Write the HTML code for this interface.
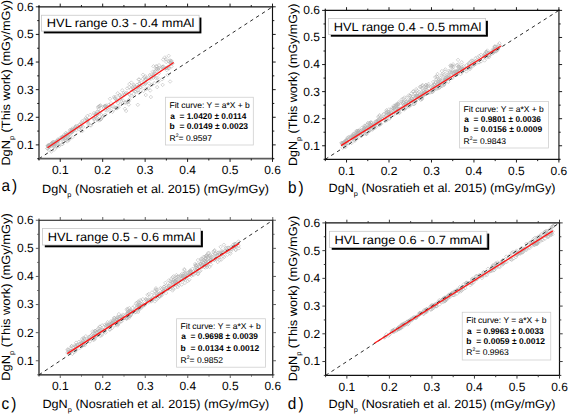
<!DOCTYPE html>
<html><head><meta charset="utf-8"><style>
html,body{margin:0;padding:0;background:#fff;}
body{width:568px;height:415px;overflow:hidden;}
svg{display:block;}
text{font-family:"Liberation Sans", sans-serif;fill:#000;text-rendering:geometricPrecision;}
.tl{font-size:12px;}
.at{font-size:12px;}
.sub{font-size:7px;}
.pl{font-size:16.5px;}
.hv{font-size:12px;}
.ft{font-size:8.4px;fill:#000;stroke:#000;stroke-width:0.06px;}
.fb{font-weight:bold;fill:#000;stroke:none;}
.sup{font-size:5px;}
</style></head><body>
<svg width="568" height="415" viewBox="0 0 568 415">
<rect width="568" height="415" fill="#fff"/>
<path d="M55.1 141.43l1.75 1.75l-1.75 1.75l-1.75 -1.75zM134.04 84.35l1.75 1.75l-1.75 1.75l-1.75 -1.75zM94.71 112.7l1.75 1.75l-1.75 1.75l-1.75 -1.75zM116.78 99.18l1.75 1.75l-1.75 1.75l-1.75 -1.75zM52.1 140.89l1.75 1.75l-1.75 1.75l-1.75 -1.75zM145.67 77.31l1.75 1.75l-1.75 1.75l-1.75 -1.75zM133.8 83.06l1.75 1.75l-1.75 1.75l-1.75 -1.75zM88.17 118.4l1.75 1.75l-1.75 1.75l-1.75 -1.75zM63.5 136.05l1.75 1.75l-1.75 1.75l-1.75 -1.75zM156.63 67.11l1.75 1.75l-1.75 1.75l-1.75 -1.75zM48.24 145.16l1.75 1.75l-1.75 1.75l-1.75 -1.75zM163.08 64.9l1.75 1.75l-1.75 1.75l-1.75 -1.75zM62.32 135.04l1.75 1.75l-1.75 1.75l-1.75 -1.75zM48.39 144.09l1.75 1.75l-1.75 1.75l-1.75 -1.75zM87.22 118.09l1.75 1.75l-1.75 1.75l-1.75 -1.75zM63.93 133.25l1.75 1.75l-1.75 1.75l-1.75 -1.75zM62.53 135.02l1.75 1.75l-1.75 1.75l-1.75 -1.75zM69.78 128.38l1.75 1.75l-1.75 1.75l-1.75 -1.75zM145.97 77.86l1.75 1.75l-1.75 1.75l-1.75 -1.75zM115.4 97.01l1.75 1.75l-1.75 1.75l-1.75 -1.75zM172.38 61.76l1.75 1.75l-1.75 1.75l-1.75 -1.75zM54.05 140.49l1.75 1.75l-1.75 1.75l-1.75 -1.75zM127.41 91.51l1.75 1.75l-1.75 1.75l-1.75 -1.75zM162.61 65.49l1.75 1.75l-1.75 1.75l-1.75 -1.75zM144.73 79.4l1.75 1.75l-1.75 1.75l-1.75 -1.75zM71.26 129.46l1.75 1.75l-1.75 1.75l-1.75 -1.75zM153.44 74.55l1.75 1.75l-1.75 1.75l-1.75 -1.75zM96.03 112.42l1.75 1.75l-1.75 1.75l-1.75 -1.75zM48.63 143.99l1.75 1.75l-1.75 1.75l-1.75 -1.75zM139.42 81.53l1.75 1.75l-1.75 1.75l-1.75 -1.75zM58.32 138.23l1.75 1.75l-1.75 1.75l-1.75 -1.75zM124.56 93.25l1.75 1.75l-1.75 1.75l-1.75 -1.75zM79.43 123.24l1.75 1.75l-1.75 1.75l-1.75 -1.75zM96.45 112.99l1.75 1.75l-1.75 1.75l-1.75 -1.75zM98.15 110.06l1.75 1.75l-1.75 1.75l-1.75 -1.75zM93.95 111.35l1.75 1.75l-1.75 1.75l-1.75 -1.75zM49.07 145.09l1.75 1.75l-1.75 1.75l-1.75 -1.75zM170.74 61.04l1.75 1.75l-1.75 1.75l-1.75 -1.75zM81.71 120.57l1.75 1.75l-1.75 1.75l-1.75 -1.75zM95.62 114.48l1.75 1.75l-1.75 1.75l-1.75 -1.75zM135.11 85.24l1.75 1.75l-1.75 1.75l-1.75 -1.75zM149.73 73.24l1.75 1.75l-1.75 1.75l-1.75 -1.75zM97.17 113.3l1.75 1.75l-1.75 1.75l-1.75 -1.75zM106.05 104.89l1.75 1.75l-1.75 1.75l-1.75 -1.75zM67.61 131.83l1.75 1.75l-1.75 1.75l-1.75 -1.75zM166.19 60.2l1.75 1.75l-1.75 1.75l-1.75 -1.75zM137.21 85.44l1.75 1.75l-1.75 1.75l-1.75 -1.75zM154.06 73.46l1.75 1.75l-1.75 1.75l-1.75 -1.75zM141.32 80.84l1.75 1.75l-1.75 1.75l-1.75 -1.75zM103.73 106.34l1.75 1.75l-1.75 1.75l-1.75 -1.75zM49.74 145.14l1.75 1.75l-1.75 1.75l-1.75 -1.75zM104.95 104.41l1.75 1.75l-1.75 1.75l-1.75 -1.75zM95.95 112l1.75 1.75l-1.75 1.75l-1.75 -1.75zM77.32 124.34l1.75 1.75l-1.75 1.75l-1.75 -1.75zM100.55 109.47l1.75 1.75l-1.75 1.75l-1.75 -1.75zM111.03 101.44l1.75 1.75l-1.75 1.75l-1.75 -1.75zM48.34 144.15l1.75 1.75l-1.75 1.75l-1.75 -1.75zM58.69 138.1l1.75 1.75l-1.75 1.75l-1.75 -1.75zM149.85 76.7l1.75 1.75l-1.75 1.75l-1.75 -1.75zM139.37 83.94l1.75 1.75l-1.75 1.75l-1.75 -1.75zM66.16 133.88l1.75 1.75l-1.75 1.75l-1.75 -1.75zM120.01 93.24l1.75 1.75l-1.75 1.75l-1.75 -1.75zM47.91 143.8l1.75 1.75l-1.75 1.75l-1.75 -1.75zM132.74 85.22l1.75 1.75l-1.75 1.75l-1.75 -1.75zM53.2 142.01l1.75 1.75l-1.75 1.75l-1.75 -1.75zM75.88 124.26l1.75 1.75l-1.75 1.75l-1.75 -1.75zM57.17 138.96l1.75 1.75l-1.75 1.75l-1.75 -1.75zM57.9 137.61l1.75 1.75l-1.75 1.75l-1.75 -1.75zM125.88 91.15l1.75 1.75l-1.75 1.75l-1.75 -1.75zM73.33 127.6l1.75 1.75l-1.75 1.75l-1.75 -1.75zM48.17 144.75l1.75 1.75l-1.75 1.75l-1.75 -1.75zM85.08 118.28l1.75 1.75l-1.75 1.75l-1.75 -1.75zM53.15 142.92l1.75 1.75l-1.75 1.75l-1.75 -1.75zM96.68 110.24l1.75 1.75l-1.75 1.75l-1.75 -1.75zM110.04 103.92l1.75 1.75l-1.75 1.75l-1.75 -1.75zM48.06 143.71l1.75 1.75l-1.75 1.75l-1.75 -1.75zM56.07 140.34l1.75 1.75l-1.75 1.75l-1.75 -1.75zM57.22 139.51l1.75 1.75l-1.75 1.75l-1.75 -1.75zM120.77 95.16l1.75 1.75l-1.75 1.75l-1.75 -1.75zM62.71 136.7l1.75 1.75l-1.75 1.75l-1.75 -1.75zM139.49 82.09l1.75 1.75l-1.75 1.75l-1.75 -1.75zM62.96 135.39l1.75 1.75l-1.75 1.75l-1.75 -1.75zM81.87 122.11l1.75 1.75l-1.75 1.75l-1.75 -1.75zM73.24 128.26l1.75 1.75l-1.75 1.75l-1.75 -1.75zM49.89 143.28l1.75 1.75l-1.75 1.75l-1.75 -1.75zM168.07 64.8l1.75 1.75l-1.75 1.75l-1.75 -1.75zM71.59 130.25l1.75 1.75l-1.75 1.75l-1.75 -1.75zM72.03 130.26l1.75 1.75l-1.75 1.75l-1.75 -1.75zM130.89 87.45l1.75 1.75l-1.75 1.75l-1.75 -1.75zM65.86 131.1l1.75 1.75l-1.75 1.75l-1.75 -1.75zM152.8 69.86l1.75 1.75l-1.75 1.75l-1.75 -1.75zM142.99 82.35l1.75 1.75l-1.75 1.75l-1.75 -1.75zM104.99 104.24l1.75 1.75l-1.75 1.75l-1.75 -1.75zM150.97 77.03l1.75 1.75l-1.75 1.75l-1.75 -1.75zM124.71 92.25l1.75 1.75l-1.75 1.75l-1.75 -1.75zM79.82 122.6l1.75 1.75l-1.75 1.75l-1.75 -1.75zM61.3 136.62l1.75 1.75l-1.75 1.75l-1.75 -1.75zM86.59 117.24l1.75 1.75l-1.75 1.75l-1.75 -1.75zM52.84 142.39l1.75 1.75l-1.75 1.75l-1.75 -1.75zM70.46 129.68l1.75 1.75l-1.75 1.75l-1.75 -1.75zM73.7 128.87l1.75 1.75l-1.75 1.75l-1.75 -1.75zM156.34 67.24l1.75 1.75l-1.75 1.75l-1.75 -1.75zM60.84 135.74l1.75 1.75l-1.75 1.75l-1.75 -1.75zM171.42 61.89l1.75 1.75l-1.75 1.75l-1.75 -1.75zM75.27 125.25l1.75 1.75l-1.75 1.75l-1.75 -1.75zM120.21 97.1l1.75 1.75l-1.75 1.75l-1.75 -1.75zM161.88 65.48l1.75 1.75l-1.75 1.75l-1.75 -1.75zM153.42 73.55l1.75 1.75l-1.75 1.75l-1.75 -1.75zM93.26 116.09l1.75 1.75l-1.75 1.75l-1.75 -1.75zM64.08 134.89l1.75 1.75l-1.75 1.75l-1.75 -1.75zM51.48 141.77l1.75 1.75l-1.75 1.75l-1.75 -1.75zM158.26 67.15l1.75 1.75l-1.75 1.75l-1.75 -1.75zM133.3 86.84l1.75 1.75l-1.75 1.75l-1.75 -1.75zM146.55 76.3l1.75 1.75l-1.75 1.75l-1.75 -1.75zM75.4 125.46l1.75 1.75l-1.75 1.75l-1.75 -1.75zM150.91 74.75l1.75 1.75l-1.75 1.75l-1.75 -1.75zM165.7 66.49l1.75 1.75l-1.75 1.75l-1.75 -1.75zM55.18 140.41l1.75 1.75l-1.75 1.75l-1.75 -1.75zM52.83 140.41l1.75 1.75l-1.75 1.75l-1.75 -1.75zM50.75 144.44l1.75 1.75l-1.75 1.75l-1.75 -1.75zM137.92 85l1.75 1.75l-1.75 1.75l-1.75 -1.75zM75.47 126.67l1.75 1.75l-1.75 1.75l-1.75 -1.75zM136.93 83.05l1.75 1.75l-1.75 1.75l-1.75 -1.75zM105.06 104.45l1.75 1.75l-1.75 1.75l-1.75 -1.75zM51.29 142.2l1.75 1.75l-1.75 1.75l-1.75 -1.75zM154.83 71.8l1.75 1.75l-1.75 1.75l-1.75 -1.75zM160.66 67.08l1.75 1.75l-1.75 1.75l-1.75 -1.75zM68.44 132.13l1.75 1.75l-1.75 1.75l-1.75 -1.75zM144.36 75.67l1.75 1.75l-1.75 1.75l-1.75 -1.75zM119.6 93.57l1.75 1.75l-1.75 1.75l-1.75 -1.75zM53.62 142.55l1.75 1.75l-1.75 1.75l-1.75 -1.75zM48.89 143.79l1.75 1.75l-1.75 1.75l-1.75 -1.75zM171.61 59.24l1.75 1.75l-1.75 1.75l-1.75 -1.75zM53.65 140.24l1.75 1.75l-1.75 1.75l-1.75 -1.75zM64.76 134.49l1.75 1.75l-1.75 1.75l-1.75 -1.75zM52.72 143.24l1.75 1.75l-1.75 1.75l-1.75 -1.75zM79.86 125.08l1.75 1.75l-1.75 1.75l-1.75 -1.75zM157.96 67.89l1.75 1.75l-1.75 1.75l-1.75 -1.75zM65.97 132.71l1.75 1.75l-1.75 1.75l-1.75 -1.75zM52.53 142.55l1.75 1.75l-1.75 1.75l-1.75 -1.75zM48.87 143.11l1.75 1.75l-1.75 1.75l-1.75 -1.75zM170.63 59.06l1.75 1.75l-1.75 1.75l-1.75 -1.75zM108.73 102.99l1.75 1.75l-1.75 1.75l-1.75 -1.75zM72.35 126.72l1.75 1.75l-1.75 1.75l-1.75 -1.75zM158.67 71.8l1.75 1.75l-1.75 1.75l-1.75 -1.75zM168.4 59.36l1.75 1.75l-1.75 1.75l-1.75 -1.75zM62.19 135.81l1.75 1.75l-1.75 1.75l-1.75 -1.75zM170.17 61.08l1.75 1.75l-1.75 1.75l-1.75 -1.75zM122.29 94.74l1.75 1.75l-1.75 1.75l-1.75 -1.75zM66.55 132.54l1.75 1.75l-1.75 1.75l-1.75 -1.75zM71.69 127.88l1.75 1.75l-1.75 1.75l-1.75 -1.75zM51.26 142.27l1.75 1.75l-1.75 1.75l-1.75 -1.75zM170.77 60.01l1.75 1.75l-1.75 1.75l-1.75 -1.75zM116.85 98.38l1.75 1.75l-1.75 1.75l-1.75 -1.75zM163.35 64.77l1.75 1.75l-1.75 1.75l-1.75 -1.75zM71.63 128.22l1.75 1.75l-1.75 1.75l-1.75 -1.75zM72.74 129.43l1.75 1.75l-1.75 1.75l-1.75 -1.75zM155.29 69.8l1.75 1.75l-1.75 1.75l-1.75 -1.75zM74.72 126.91l1.75 1.75l-1.75 1.75l-1.75 -1.75zM106.22 105.44l1.75 1.75l-1.75 1.75l-1.75 -1.75zM99.19 104.53l1.75 1.75l-1.75 1.75l-1.75 -1.75zM99.06 104.86l1.75 1.75l-1.75 1.75l-1.75 -1.75zM129.4 82.34l1.75 1.75l-1.75 1.75l-1.75 -1.75zM82.42 119.14l1.75 1.75l-1.75 1.75l-1.75 -1.75zM103.7 104.83l1.75 1.75l-1.75 1.75l-1.75 -1.75zM123.68 91.3l1.75 1.75l-1.75 1.75l-1.75 -1.75zM90.22 113.1l1.75 1.75l-1.75 1.75l-1.75 -1.75zM153.46 64.55l1.75 1.75l-1.75 1.75l-1.75 -1.75zM168.69 54.09l1.75 1.75l-1.75 1.75l-1.75 -1.75zM151.61 72.87l1.75 1.75l-1.75 1.75l-1.75 -1.75zM156.09 64.53l1.75 1.75l-1.75 1.75l-1.75 -1.75zM85.55 116.49l1.75 1.75l-1.75 1.75l-1.75 -1.75zM165.74 57.29l1.75 1.75l-1.75 1.75l-1.75 -1.75zM163.21 57.86l1.75 1.75l-1.75 1.75l-1.75 -1.75zM164.86 55.71l1.75 1.75l-1.75 1.75l-1.75 -1.75zM106.2 103.63l1.75 1.75l-1.75 1.75l-1.75 -1.75zM154.34 70.39l1.75 1.75l-1.75 1.75l-1.75 -1.75zM157.98 66.58l1.75 1.75l-1.75 1.75l-1.75 -1.75zM143.06 72.98l1.75 1.75l-1.75 1.75l-1.75 -1.75zM117.7 91.51l1.75 1.75l-1.75 1.75l-1.75 -1.75zM145.55 74.72l1.75 1.75l-1.75 1.75l-1.75 -1.75zM99.93 104.18l1.75 1.75l-1.75 1.75l-1.75 -1.75zM170.09 58.64l1.75 1.75l-1.75 1.75l-1.75 -1.75zM129.21 85.45l1.75 1.75l-1.75 1.75l-1.75 -1.75zM159.02 63.48l1.75 1.75l-1.75 1.75l-1.75 -1.75zM114.06 95.17l1.75 1.75l-1.75 1.75l-1.75 -1.75zM100.46 103.6l1.75 1.75l-1.75 1.75l-1.75 -1.75zM138.8 77.75l1.75 1.75l-1.75 1.75l-1.75 -1.75zM131.32 80.87l1.75 1.75l-1.75 1.75l-1.75 -1.75zM110.03 97.06l1.75 1.75l-1.75 1.75l-1.75 -1.75zM87.35 114.24l1.75 1.75l-1.75 1.75l-1.75 -1.75zM156.82 64.62l1.75 1.75l-1.75 1.75l-1.75 -1.75zM114.59 96.26l1.75 1.75l-1.75 1.75l-1.75 -1.75zM98.05 105.32l1.75 1.75l-1.75 1.75l-1.75 -1.75zM127.18 86.65l1.75 1.75l-1.75 1.75l-1.75 -1.75zM139.04 77.73l1.75 1.75l-1.75 1.75l-1.75 -1.75zM142.76 77.14l1.75 1.75l-1.75 1.75l-1.75 -1.75zM98.53 107.12l1.75 1.75l-1.75 1.75l-1.75 -1.75zM122.26 88.55l1.75 1.75l-1.75 1.75l-1.75 -1.75zM115.69 95.2l1.75 1.75l-1.75 1.75l-1.75 -1.75zM157.57 76.09l1.75 1.75l-1.75 1.75l-1.75 -1.75zM68.23 134.21l1.75 1.75l-1.75 1.75l-1.75 -1.75zM49.31 145.05l1.75 1.75l-1.75 1.75l-1.75 -1.75zM96.89 116.02l1.75 1.75l-1.75 1.75l-1.75 -1.75zM57.16 141.95l1.75 1.75l-1.75 1.75l-1.75 -1.75zM153.53 75.93l1.75 1.75l-1.75 1.75l-1.75 -1.75zM122.96 98.67l1.75 1.75l-1.75 1.75l-1.75 -1.75zM79.06 127.2l1.75 1.75l-1.75 1.75l-1.75 -1.75zM129.73 93.09l1.75 1.75l-1.75 1.75l-1.75 -1.75zM149.06 81.62l1.75 1.75l-1.75 1.75l-1.75 -1.75zM166.7 68.37l1.75 1.75l-1.75 1.75l-1.75 -1.75zM58.61 139.35l1.75 1.75l-1.75 1.75l-1.75 -1.75zM62.42 137.82l1.75 1.75l-1.75 1.75l-1.75 -1.75zM133.08 88.5l1.75 1.75l-1.75 1.75l-1.75 -1.75zM121.3 99.22l1.75 1.75l-1.75 1.75l-1.75 -1.75zM76.29 128.39l1.75 1.75l-1.75 1.75l-1.75 -1.75zM57.61 141.53l1.75 1.75l-1.75 1.75l-1.75 -1.75zM48.93 148.05l1.75 1.75l-1.75 1.75l-1.75 -1.75zM141.13 85.66l1.75 1.75l-1.75 1.75l-1.75 -1.75zM67.42 135.63l1.75 1.75l-1.75 1.75l-1.75 -1.75zM166.59 66.33l1.75 1.75l-1.75 1.75l-1.75 -1.75zM135.95 90.04l1.75 1.75l-1.75 1.75l-1.75 -1.75zM118 101.34l1.75 1.75l-1.75 1.75l-1.75 -1.75zM88.13 121.99l1.75 1.75l-1.75 1.75l-1.75 -1.75zM168.64 66.15l1.75 1.75l-1.75 1.75l-1.75 -1.75zM140.28 85.35l1.75 1.75l-1.75 1.75l-1.75 -1.75zM57.61 140.25l1.75 1.75l-1.75 1.75l-1.75 -1.75zM54.47 144.17l1.75 1.75l-1.75 1.75l-1.75 -1.75zM166.59 66.23l1.75 1.75l-1.75 1.75l-1.75 -1.75zM109.32 105.94l1.75 1.75l-1.75 1.75l-1.75 -1.75zM53.84 142.69l1.75 1.75l-1.75 1.75l-1.75 -1.75zM65.44 136.4l1.75 1.75l-1.75 1.75l-1.75 -1.75zM47.56 146.58l1.75 1.75l-1.75 1.75l-1.75 -1.75zM87.33 119.24l1.75 1.75l-1.75 1.75l-1.75 -1.75zM113.23 104.12l1.75 1.75l-1.75 1.75l-1.75 -1.75zM145.6 80.76l1.75 1.75l-1.75 1.75l-1.75 -1.75zM69.25 133.18l1.75 1.75l-1.75 1.75l-1.75 -1.75zM68.02 134.14l1.75 1.75l-1.75 1.75l-1.75 -1.75zM65.71 136l1.75 1.75l-1.75 1.75l-1.75 -1.75zM138.4 88.27l1.75 1.75l-1.75 1.75l-1.75 -1.75zM169.06 66.67l1.75 1.75l-1.75 1.75l-1.75 -1.75zM94.09 117.79l1.75 1.75l-1.75 1.75l-1.75 -1.75zM134.88 89.56l1.75 1.75l-1.75 1.75l-1.75 -1.75zM80.46 124.8l1.75 1.75l-1.75 1.75l-1.75 -1.75zM53.11 144.76l1.75 1.75l-1.75 1.75l-1.75 -1.75zM53.84 144.09l1.75 1.75l-1.75 1.75l-1.75 -1.75zM101.49 113.32l1.75 1.75l-1.75 1.75l-1.75 -1.75zM133.61 92.17l1.75 1.75l-1.75 1.75l-1.75 -1.75zM55.27 142.36l1.75 1.75l-1.75 1.75l-1.75 -1.75zM105.31 108.24l1.75 1.75l-1.75 1.75l-1.75 -1.75zM95.73 114.83l1.75 1.75l-1.75 1.75l-1.75 -1.75zM99.17 111.17l1.75 1.75l-1.75 1.75l-1.75 -1.75zM87.78 120.49l1.75 1.75l-1.75 1.75l-1.75 -1.75zM71.42 131.25l1.75 1.75l-1.75 1.75l-1.75 -1.75zM137.12 88.57l1.75 1.75l-1.75 1.75l-1.75 -1.75zM94.29 116.88l1.75 1.75l-1.75 1.75l-1.75 -1.75zM79.77 124.98l1.75 1.75l-1.75 1.75l-1.75 -1.75zM47.55 146.85l1.75 1.75l-1.75 1.75l-1.75 -1.75zM108.96 108.06l1.75 1.75l-1.75 1.75l-1.75 -1.75zM144.63 82.8l1.75 1.75l-1.75 1.75l-1.75 -1.75zM171.41 64.69l1.75 1.75l-1.75 1.75l-1.75 -1.75zM145.48 81.77l1.75 1.75l-1.75 1.75l-1.75 -1.75zM131.02 93.94l1.75 1.75l-1.75 1.75l-1.75 -1.75zM71.47 130.44l1.75 1.75l-1.75 1.75l-1.75 -1.75zM112.13 104.55l1.75 1.75l-1.75 1.75l-1.75 -1.75zM77.62 125.73l1.75 1.75l-1.75 1.75l-1.75 -1.75zM81.17 124.82l1.75 1.75l-1.75 1.75l-1.75 -1.75zM83.13 125.06l1.75 1.75l-1.75 1.75l-1.75 -1.75zM107 108.78l1.75 1.75l-1.75 1.75l-1.75 -1.75zM156.04 76.31l1.75 1.75l-1.75 1.75l-1.75 -1.75zM98.61 118.76l1.75 1.75l-1.75 1.75l-1.75 -1.75zM118.35 105.69l1.75 1.75l-1.75 1.75l-1.75 -1.75zM116.87 106.07l1.75 1.75l-1.75 1.75l-1.75 -1.75zM116.81 106.65l1.75 1.75l-1.75 1.75l-1.75 -1.75zM162.12 77.53l1.75 1.75l-1.75 1.75l-1.75 -1.75zM148.2 86.55l1.75 1.75l-1.75 1.75l-1.75 -1.75zM143.56 89.18l1.75 1.75l-1.75 1.75l-1.75 -1.75zM81.1 129l1.75 1.75l-1.75 1.75l-1.75 -1.75zM127.88 100.03l1.75 1.75l-1.75 1.75l-1.75 -1.75zM105.32 112.97l1.75 1.75l-1.75 1.75l-1.75 -1.75zM146.2 87.17l1.75 1.75l-1.75 1.75l-1.75 -1.75zM95.35 119.2l1.75 1.75l-1.75 1.75l-1.75 -1.75zM100.88 117.28l1.75 1.75l-1.75 1.75l-1.75 -1.75zM89.82 123.54l1.75 1.75l-1.75 1.75l-1.75 -1.75zM120.64 102.69l1.75 1.75l-1.75 1.75l-1.75 -1.75zM100.47 118.03l1.75 1.75l-1.75 1.75l-1.75 -1.75zM125.38 100.52l1.75 1.75l-1.75 1.75l-1.75 -1.75zM125.16 101.15l1.75 1.75l-1.75 1.75l-1.75 -1.75zM65.93 138.73l1.75 1.75l-1.75 1.75l-1.75 -1.75zM154.24 81.43l1.75 1.75l-1.75 1.75l-1.75 -1.75zM54.2 147.86l1.75 1.75l-1.75 1.75l-1.75 -1.75zM102.56 115.29l1.75 1.75l-1.75 1.75l-1.75 -1.75zM101.04 117.16l1.75 1.75l-1.75 1.75l-1.75 -1.75zM62.05 142.32l1.75 1.75l-1.75 1.75l-1.75 -1.75zM128.65 99.38l1.75 1.75l-1.75 1.75l-1.75 -1.75zM72.21 135.61l1.75 1.75l-1.75 1.75l-1.75 -1.75zM68.27 138.05l1.75 1.75l-1.75 1.75l-1.75 -1.75zM62.41 142.42l1.75 1.75l-1.75 1.75l-1.75 -1.75zM151.3 83.49l1.75 1.75l-1.75 1.75l-1.75 -1.75zM67.28 139.67l1.75 1.75l-1.75 1.75l-1.75 -1.75zM127.69 100.08l1.75 1.75l-1.75 1.75l-1.75 -1.75zM51.31 149.9l1.75 1.75l-1.75 1.75l-1.75 -1.75zM115.87 106.5l1.75 1.75l-1.75 1.75l-1.75 -1.75zM90.94 123.79l1.75 1.75l-1.75 1.75l-1.75 -1.75zM139.12 91.07l1.75 1.75l-1.75 1.75l-1.75 -1.75zM116.34 105.83l1.75 1.75l-1.75 1.75l-1.75 -1.75zM167.74 73.06l1.75 1.75l-1.75 1.75l-1.75 -1.75zM158.41 79.82l1.75 1.75l-1.75 1.75l-1.75 -1.75zM113.65 107.81l1.75 1.75l-1.75 1.75l-1.75 -1.75zM103 114.45l1.75 1.75l-1.75 1.75l-1.75 -1.75zM59.3 144.26l1.75 1.75l-1.75 1.75l-1.75 -1.75zM82.45 129.29l1.75 1.75l-1.75 1.75l-1.75 -1.75zM69.13 137.87l1.75 1.75l-1.75 1.75l-1.75 -1.75zM129.38 97.69l1.75 1.75l-1.75 1.75l-1.75 -1.75zM56.63 145.24l1.75 1.75l-1.75 1.75l-1.75 -1.75zM98.57 117.24l1.75 1.75l-1.75 1.75l-1.75 -1.75zM63.77 139.77l1.75 1.75l-1.75 1.75l-1.75 -1.75zM112.46 110.09l1.75 1.75l-1.75 1.75l-1.75 -1.75zM66.7 137.82l1.75 1.75l-1.75 1.75l-1.75 -1.75zM127.29 100.27l1.75 1.75l-1.75 1.75l-1.75 -1.75zM170.13 79.77l1.75 1.75l-1.75 1.75l-1.75 -1.75zM137.81 103.05l1.75 1.75l-1.75 1.75l-1.75 -1.75zM126.14 109.19l1.75 1.75l-1.75 1.75l-1.75 -1.75zM124.95 107.03l1.75 1.75l-1.75 1.75l-1.75 -1.75zM145.74 93.29l1.75 1.75l-1.75 1.75l-1.75 -1.75zM128.77 102.87l1.75 1.75l-1.75 1.75l-1.75 -1.75zM162.65 83.14l1.75 1.75l-1.75 1.75l-1.75 -1.75zM150.16 88.76l1.75 1.75l-1.75 1.75l-1.75 -1.75zM157.18 85.37l1.75 1.75l-1.75 1.75l-1.75 -1.75zM150.87 95.27l1.75 1.75l-1.75 1.75l-1.75 -1.75z" fill="none" stroke="#b2b2b2" stroke-width="0.55"/>
<line x1="39" y1="158.7" x2="272.5" y2="6.8" stroke="#2c2c2c" stroke-width="1" stroke-dasharray="3.5 3.5"/>
<line x1="47.5" y1="147.8" x2="173.7" y2="62.6" stroke="#ff1414" stroke-width="1.25"/>
<line x1="39" y1="158.7" x2="272.5" y2="158.7" stroke="#5c5c5c" stroke-width="1.7" stroke-linecap="square"/>
<line x1="39" y1="6.8" x2="39" y2="158.7" stroke="#5c5c5c" stroke-width="1.7" stroke-linecap="square"/>
<line x1="39" y1="6.8" x2="272.5" y2="6.8" stroke="#111" stroke-width="1.15" stroke-linecap="square"/>
<line x1="272.5" y1="6.8" x2="272.5" y2="158.7" stroke="#111" stroke-width="1.15" stroke-linecap="square"/>
<path d="M39 158.7v1.8M39 6.8v-1.8M39 158.7h-1.8M272.5 158.7h1.8M60.23 158.7v3.2M60.23 6.8v-3.2M39 144.89h-3.2M272.5 144.89h3.2M81.45 158.7v1.8M81.45 6.8v-1.8M39 131.08h-1.8M272.5 131.08h1.8M102.68 158.7v3.2M102.68 6.8v-3.2M39 117.27h-3.2M272.5 117.27h3.2M123.91 158.7v1.8M123.91 6.8v-1.8M39 103.46h-1.8M272.5 103.46h1.8M145.14 158.7v3.2M145.14 6.8v-3.2M39 89.65h-3.2M272.5 89.65h3.2M166.36 158.7v1.8M166.36 6.8v-1.8M39 75.85h-1.8M272.5 75.85h1.8M187.59 158.7v3.2M187.59 6.8v-3.2M39 62.04h-3.2M272.5 62.04h3.2M208.82 158.7v1.8M208.82 6.8v-1.8M39 48.23h-1.8M272.5 48.23h1.8M230.05 158.7v3.2M230.05 6.8v-3.2M39 34.42h-3.2M272.5 34.42h3.2M251.27 158.7v1.8M251.27 6.8v-1.8M39 20.61h-1.8M272.5 20.61h1.8M272.5 158.7v3.2M272.5 6.8v-3.2M39 6.8h-3.2M272.5 6.8h3.2" stroke="#111" stroke-width="0.95" fill="none"/>
<text x="60.23" y="174.1" text-anchor="middle" class="tl">0.1</text>
<text x="33.7" y="148.79" text-anchor="end" class="tl">0.1</text>
<text x="102.68" y="174.1" text-anchor="middle" class="tl">0.2</text>
<text x="33.7" y="121.17" text-anchor="end" class="tl">0.2</text>
<text x="145.14" y="174.1" text-anchor="middle" class="tl">0.3</text>
<text x="33.7" y="93.55" text-anchor="end" class="tl">0.3</text>
<text x="187.59" y="174.1" text-anchor="middle" class="tl">0.4</text>
<text x="33.7" y="65.94" text-anchor="end" class="tl">0.4</text>
<text x="230.05" y="174.1" text-anchor="middle" class="tl">0.5</text>
<text x="33.7" y="38.32" text-anchor="end" class="tl">0.5</text>
<text x="272.5" y="174.1" text-anchor="middle" class="tl">0.6</text>
<text x="33.7" y="10.7" text-anchor="end" class="tl">0.6</text>
<text transform="translate(42.05 192.5) scale(1.0537 1)" class="at">DgN<tspan class="sub" dy="4">p</tspan><tspan dy="-4"> (Nosratieh et al. 2015) (mGy/mGy)</tspan></text>
<text transform="translate(9.8 165.6) rotate(-90)" x="0" y="0" class="at" textLength="165.7" lengthAdjust="spacingAndGlyphs">DgN<tspan class="sub" dy="4">p</tspan><tspan dy="-4"> (This work) (mGy/mGy)</tspan></text>
<text transform="translate(1.4 190.8) scale(0.93 1)" class="pl">a<tspan dx="2.2">)</tspan></text>
<rect x="43.8" y="17.55" width="157.6" height="15.85" fill="#000"/>
<rect x="41.5" y="15.25" width="157.6" height="15.85" fill="#fff" stroke="#c8c8c8" stroke-width="0.8"/>
<text transform="translate(46.83 27.3) scale(1.0676 1)" class="hv">HVL range 0.3 - 0.4 mmAl</text>
<rect x="165.5" y="97.25" width="87.8" height="47.75" fill="#fff" stroke="#cfcfcf" stroke-width="0.8"/>
<text transform="translate(169.5 108.1) scale(1.0115 1)" class="ft">Fit curve: Y = a*X + b</text>
<text transform="translate(170.2 118.75) scale(0.9948 1)" class="ft fb">a&#160; = 1.0420 &#177; 0.0114</text>
<text transform="translate(169.5 128.75) scale(1.0145 1)" class="ft fb">b&#160; = 0.0149 &#177; 0.0023</text>
<text transform="translate(169.5 140.6) scale(1.0200 1)" class="ft">R<tspan class="sup" dy="-3.9">2</tspan><tspan dy="3.9">= 0.9597</tspan></text>
<path d="M493.97 48.97l1.75 1.75l-1.75 1.75l-1.75 -1.75zM350.05 135.88l1.75 1.75l-1.75 1.75l-1.75 -1.75zM474.68 59.97l1.75 1.75l-1.75 1.75l-1.75 -1.75zM448.16 74.67l1.75 1.75l-1.75 1.75l-1.75 -1.75zM437.95 82.4l1.75 1.75l-1.75 1.75l-1.75 -1.75zM433.99 82.97l1.75 1.75l-1.75 1.75l-1.75 -1.75zM409.91 99.15l1.75 1.75l-1.75 1.75l-1.75 -1.75zM456.68 72.41l1.75 1.75l-1.75 1.75l-1.75 -1.75zM492.9 47.61l1.75 1.75l-1.75 1.75l-1.75 -1.75zM412.18 97.22l1.75 1.75l-1.75 1.75l-1.75 -1.75zM346.75 137.79l1.75 1.75l-1.75 1.75l-1.75 -1.75zM415.38 95.4l1.75 1.75l-1.75 1.75l-1.75 -1.75zM401.8 106.18l1.75 1.75l-1.75 1.75l-1.75 -1.75zM425.12 90.26l1.75 1.75l-1.75 1.75l-1.75 -1.75zM378.78 117.45l1.75 1.75l-1.75 1.75l-1.75 -1.75zM393.02 108.83l1.75 1.75l-1.75 1.75l-1.75 -1.75zM422.64 93.63l1.75 1.75l-1.75 1.75l-1.75 -1.75zM448.92 73.63l1.75 1.75l-1.75 1.75l-1.75 -1.75zM483.97 54.46l1.75 1.75l-1.75 1.75l-1.75 -1.75zM458.5 70.88l1.75 1.75l-1.75 1.75l-1.75 -1.75zM463.06 67.49l1.75 1.75l-1.75 1.75l-1.75 -1.75zM397.61 109.14l1.75 1.75l-1.75 1.75l-1.75 -1.75zM494.9 44.43l1.75 1.75l-1.75 1.75l-1.75 -1.75zM461.64 68.04l1.75 1.75l-1.75 1.75l-1.75 -1.75zM414.83 96.6l1.75 1.75l-1.75 1.75l-1.75 -1.75zM419.4 95.34l1.75 1.75l-1.75 1.75l-1.75 -1.75zM421.13 93.88l1.75 1.75l-1.75 1.75l-1.75 -1.75zM397.63 108.75l1.75 1.75l-1.75 1.75l-1.75 -1.75zM484.95 52.2l1.75 1.75l-1.75 1.75l-1.75 -1.75zM431.83 87.57l1.75 1.75l-1.75 1.75l-1.75 -1.75zM456.8 70.03l1.75 1.75l-1.75 1.75l-1.75 -1.75zM376.49 119.96l1.75 1.75l-1.75 1.75l-1.75 -1.75zM452.93 71.02l1.75 1.75l-1.75 1.75l-1.75 -1.75zM486.27 50.42l1.75 1.75l-1.75 1.75l-1.75 -1.75zM486.82 50.28l1.75 1.75l-1.75 1.75l-1.75 -1.75zM494.18 47.62l1.75 1.75l-1.75 1.75l-1.75 -1.75zM421.68 92.25l1.75 1.75l-1.75 1.75l-1.75 -1.75zM445.23 77.75l1.75 1.75l-1.75 1.75l-1.75 -1.75zM390.9 110.44l1.75 1.75l-1.75 1.75l-1.75 -1.75zM422.9 93.19l1.75 1.75l-1.75 1.75l-1.75 -1.75zM440.72 78.35l1.75 1.75l-1.75 1.75l-1.75 -1.75zM472.26 61.44l1.75 1.75l-1.75 1.75l-1.75 -1.75zM486.22 50.07l1.75 1.75l-1.75 1.75l-1.75 -1.75zM460.17 65.95l1.75 1.75l-1.75 1.75l-1.75 -1.75zM445.47 76.22l1.75 1.75l-1.75 1.75l-1.75 -1.75zM377.26 121.44l1.75 1.75l-1.75 1.75l-1.75 -1.75zM358 132.28l1.75 1.75l-1.75 1.75l-1.75 -1.75zM477.63 55.77l1.75 1.75l-1.75 1.75l-1.75 -1.75zM374.68 123.07l1.75 1.75l-1.75 1.75l-1.75 -1.75zM408.67 101.21l1.75 1.75l-1.75 1.75l-1.75 -1.75zM346.1 139.26l1.75 1.75l-1.75 1.75l-1.75 -1.75zM368.5 126.2l1.75 1.75l-1.75 1.75l-1.75 -1.75zM354.26 136.04l1.75 1.75l-1.75 1.75l-1.75 -1.75zM345.06 141.07l1.75 1.75l-1.75 1.75l-1.75 -1.75zM344.38 140.01l1.75 1.75l-1.75 1.75l-1.75 -1.75zM471.14 59.46l1.75 1.75l-1.75 1.75l-1.75 -1.75zM370.4 125.08l1.75 1.75l-1.75 1.75l-1.75 -1.75zM402.69 102.34l1.75 1.75l-1.75 1.75l-1.75 -1.75zM499.4 41.54l1.75 1.75l-1.75 1.75l-1.75 -1.75zM346.8 138.76l1.75 1.75l-1.75 1.75l-1.75 -1.75zM439.44 82.06l1.75 1.75l-1.75 1.75l-1.75 -1.75zM359.1 130.98l1.75 1.75l-1.75 1.75l-1.75 -1.75zM345.93 139.64l1.75 1.75l-1.75 1.75l-1.75 -1.75zM463.56 66.95l1.75 1.75l-1.75 1.75l-1.75 -1.75zM485.32 53.41l1.75 1.75l-1.75 1.75l-1.75 -1.75zM478.99 57.13l1.75 1.75l-1.75 1.75l-1.75 -1.75zM416.64 94.23l1.75 1.75l-1.75 1.75l-1.75 -1.75zM446.73 75.61l1.75 1.75l-1.75 1.75l-1.75 -1.75zM357.33 132.46l1.75 1.75l-1.75 1.75l-1.75 -1.75zM480.96 53.09l1.75 1.75l-1.75 1.75l-1.75 -1.75zM434.59 83.6l1.75 1.75l-1.75 1.75l-1.75 -1.75zM423.37 89.64l1.75 1.75l-1.75 1.75l-1.75 -1.75zM494.56 45.14l1.75 1.75l-1.75 1.75l-1.75 -1.75zM437.97 81.58l1.75 1.75l-1.75 1.75l-1.75 -1.75zM343.89 141.27l1.75 1.75l-1.75 1.75l-1.75 -1.75zM363.49 127.26l1.75 1.75l-1.75 1.75l-1.75 -1.75zM346.37 138.45l1.75 1.75l-1.75 1.75l-1.75 -1.75zM356.34 133.7l1.75 1.75l-1.75 1.75l-1.75 -1.75zM422.32 93.76l1.75 1.75l-1.75 1.75l-1.75 -1.75zM490.46 51.38l1.75 1.75l-1.75 1.75l-1.75 -1.75zM378.2 119.32l1.75 1.75l-1.75 1.75l-1.75 -1.75zM381.12 118l1.75 1.75l-1.75 1.75l-1.75 -1.75zM440.87 81.41l1.75 1.75l-1.75 1.75l-1.75 -1.75zM454.52 70.42l1.75 1.75l-1.75 1.75l-1.75 -1.75zM408.68 100.45l1.75 1.75l-1.75 1.75l-1.75 -1.75zM341.77 140.97l1.75 1.75l-1.75 1.75l-1.75 -1.75zM406.4 100.26l1.75 1.75l-1.75 1.75l-1.75 -1.75zM456.8 68.91l1.75 1.75l-1.75 1.75l-1.75 -1.75zM356.96 131.81l1.75 1.75l-1.75 1.75l-1.75 -1.75zM378.04 118.6l1.75 1.75l-1.75 1.75l-1.75 -1.75zM424.32 90.37l1.75 1.75l-1.75 1.75l-1.75 -1.75zM390.56 112.27l1.75 1.75l-1.75 1.75l-1.75 -1.75zM374.99 122.96l1.75 1.75l-1.75 1.75l-1.75 -1.75zM495.1 47.16l1.75 1.75l-1.75 1.75l-1.75 -1.75zM410.4 99.31l1.75 1.75l-1.75 1.75l-1.75 -1.75zM433.97 82.53l1.75 1.75l-1.75 1.75l-1.75 -1.75zM407.88 100.95l1.75 1.75l-1.75 1.75l-1.75 -1.75zM370 123.26l1.75 1.75l-1.75 1.75l-1.75 -1.75zM469.42 61.52l1.75 1.75l-1.75 1.75l-1.75 -1.75zM424.07 92.41l1.75 1.75l-1.75 1.75l-1.75 -1.75zM438.68 80.57l1.75 1.75l-1.75 1.75l-1.75 -1.75zM498.36 43.31l1.75 1.75l-1.75 1.75l-1.75 -1.75zM344.05 141.56l1.75 1.75l-1.75 1.75l-1.75 -1.75zM357.19 132.08l1.75 1.75l-1.75 1.75l-1.75 -1.75zM475.5 59.16l1.75 1.75l-1.75 1.75l-1.75 -1.75zM343.52 141.17l1.75 1.75l-1.75 1.75l-1.75 -1.75zM406.71 101.53l1.75 1.75l-1.75 1.75l-1.75 -1.75zM374.32 122.26l1.75 1.75l-1.75 1.75l-1.75 -1.75zM352.81 134.78l1.75 1.75l-1.75 1.75l-1.75 -1.75zM400.66 107.06l1.75 1.75l-1.75 1.75l-1.75 -1.75zM353.25 136.03l1.75 1.75l-1.75 1.75l-1.75 -1.75zM371.78 123.8l1.75 1.75l-1.75 1.75l-1.75 -1.75zM403.68 103.34l1.75 1.75l-1.75 1.75l-1.75 -1.75zM461.57 66.61l1.75 1.75l-1.75 1.75l-1.75 -1.75zM360.48 129.39l1.75 1.75l-1.75 1.75l-1.75 -1.75zM353.88 135.94l1.75 1.75l-1.75 1.75l-1.75 -1.75zM443.56 80.43l1.75 1.75l-1.75 1.75l-1.75 -1.75zM451.82 71.09l1.75 1.75l-1.75 1.75l-1.75 -1.75zM446.47 77.81l1.75 1.75l-1.75 1.75l-1.75 -1.75zM456.76 70.1l1.75 1.75l-1.75 1.75l-1.75 -1.75zM398.21 106.76l1.75 1.75l-1.75 1.75l-1.75 -1.75zM468.8 61.46l1.75 1.75l-1.75 1.75l-1.75 -1.75zM425.21 89.86l1.75 1.75l-1.75 1.75l-1.75 -1.75zM493.75 48.38l1.75 1.75l-1.75 1.75l-1.75 -1.75zM490.13 50.8l1.75 1.75l-1.75 1.75l-1.75 -1.75zM388.48 112.05l1.75 1.75l-1.75 1.75l-1.75 -1.75zM419.21 92.75l1.75 1.75l-1.75 1.75l-1.75 -1.75zM409.42 100.59l1.75 1.75l-1.75 1.75l-1.75 -1.75zM487.97 50.91l1.75 1.75l-1.75 1.75l-1.75 -1.75zM471.86 58.71l1.75 1.75l-1.75 1.75l-1.75 -1.75zM397.97 108.98l1.75 1.75l-1.75 1.75l-1.75 -1.75zM364.44 127.88l1.75 1.75l-1.75 1.75l-1.75 -1.75zM351.69 134.84l1.75 1.75l-1.75 1.75l-1.75 -1.75zM484.28 55.2l1.75 1.75l-1.75 1.75l-1.75 -1.75zM444.69 76.07l1.75 1.75l-1.75 1.75l-1.75 -1.75zM388.42 112.09l1.75 1.75l-1.75 1.75l-1.75 -1.75zM448.32 76.23l1.75 1.75l-1.75 1.75l-1.75 -1.75zM411.22 98.85l1.75 1.75l-1.75 1.75l-1.75 -1.75zM358.93 131.76l1.75 1.75l-1.75 1.75l-1.75 -1.75zM492.99 48.62l1.75 1.75l-1.75 1.75l-1.75 -1.75zM356.38 133.28l1.75 1.75l-1.75 1.75l-1.75 -1.75zM455.46 69.83l1.75 1.75l-1.75 1.75l-1.75 -1.75zM484.18 52.68l1.75 1.75l-1.75 1.75l-1.75 -1.75zM453.52 71.72l1.75 1.75l-1.75 1.75l-1.75 -1.75zM500.22 44.23l1.75 1.75l-1.75 1.75l-1.75 -1.75zM432.75 83.7l1.75 1.75l-1.75 1.75l-1.75 -1.75zM411.59 96.64l1.75 1.75l-1.75 1.75l-1.75 -1.75zM436.23 84.66l1.75 1.75l-1.75 1.75l-1.75 -1.75zM369.87 124.78l1.75 1.75l-1.75 1.75l-1.75 -1.75zM418.19 93.98l1.75 1.75l-1.75 1.75l-1.75 -1.75zM454.67 73.4l1.75 1.75l-1.75 1.75l-1.75 -1.75zM453.86 71.81l1.75 1.75l-1.75 1.75l-1.75 -1.75zM494.92 45.27l1.75 1.75l-1.75 1.75l-1.75 -1.75zM460.3 68.62l1.75 1.75l-1.75 1.75l-1.75 -1.75zM462.86 67.91l1.75 1.75l-1.75 1.75l-1.75 -1.75zM377 120.7l1.75 1.75l-1.75 1.75l-1.75 -1.75zM405.44 103.04l1.75 1.75l-1.75 1.75l-1.75 -1.75zM497.36 45.27l1.75 1.75l-1.75 1.75l-1.75 -1.75zM342.86 141.62l1.75 1.75l-1.75 1.75l-1.75 -1.75zM454.85 73.05l1.75 1.75l-1.75 1.75l-1.75 -1.75zM445.01 78.89l1.75 1.75l-1.75 1.75l-1.75 -1.75zM343.74 142.57l1.75 1.75l-1.75 1.75l-1.75 -1.75zM457.71 70l1.75 1.75l-1.75 1.75l-1.75 -1.75zM485.85 53.71l1.75 1.75l-1.75 1.75l-1.75 -1.75zM357.07 133.84l1.75 1.75l-1.75 1.75l-1.75 -1.75zM463.72 64.35l1.75 1.75l-1.75 1.75l-1.75 -1.75zM460.08 68.42l1.75 1.75l-1.75 1.75l-1.75 -1.75zM371.64 124.7l1.75 1.75l-1.75 1.75l-1.75 -1.75zM363.06 129.41l1.75 1.75l-1.75 1.75l-1.75 -1.75zM410.5 98.22l1.75 1.75l-1.75 1.75l-1.75 -1.75zM431.58 85.81l1.75 1.75l-1.75 1.75l-1.75 -1.75zM373.8 123.92l1.75 1.75l-1.75 1.75l-1.75 -1.75zM352.65 133.96l1.75 1.75l-1.75 1.75l-1.75 -1.75zM418.67 95.44l1.75 1.75l-1.75 1.75l-1.75 -1.75zM446.34 77.79l1.75 1.75l-1.75 1.75l-1.75 -1.75zM418.6 94.82l1.75 1.75l-1.75 1.75l-1.75 -1.75zM394.58 108.33l1.75 1.75l-1.75 1.75l-1.75 -1.75zM421.46 90.37l1.75 1.75l-1.75 1.75l-1.75 -1.75zM353.77 135.7l1.75 1.75l-1.75 1.75l-1.75 -1.75zM368.79 126.29l1.75 1.75l-1.75 1.75l-1.75 -1.75zM466.5 63.55l1.75 1.75l-1.75 1.75l-1.75 -1.75zM449 76.27l1.75 1.75l-1.75 1.75l-1.75 -1.75zM479.24 54.22l1.75 1.75l-1.75 1.75l-1.75 -1.75zM367.01 126.14l1.75 1.75l-1.75 1.75l-1.75 -1.75zM415.35 95.33l1.75 1.75l-1.75 1.75l-1.75 -1.75zM342.66 142.03l1.75 1.75l-1.75 1.75l-1.75 -1.75zM495.71 44.96l1.75 1.75l-1.75 1.75l-1.75 -1.75zM427.08 88.29l1.75 1.75l-1.75 1.75l-1.75 -1.75zM411.85 99.83l1.75 1.75l-1.75 1.75l-1.75 -1.75zM390.35 112.43l1.75 1.75l-1.75 1.75l-1.75 -1.75zM418.41 94.39l1.75 1.75l-1.75 1.75l-1.75 -1.75zM487.35 48.79l1.75 1.75l-1.75 1.75l-1.75 -1.75zM472.9 59.04l1.75 1.75l-1.75 1.75l-1.75 -1.75zM444.41 79.18l1.75 1.75l-1.75 1.75l-1.75 -1.75zM445.55 76.7l1.75 1.75l-1.75 1.75l-1.75 -1.75zM475.51 56.38l1.75 1.75l-1.75 1.75l-1.75 -1.75zM442.33 78.71l1.75 1.75l-1.75 1.75l-1.75 -1.75zM425.87 91l1.75 1.75l-1.75 1.75l-1.75 -1.75zM468.66 63.24l1.75 1.75l-1.75 1.75l-1.75 -1.75zM390.29 110.91l1.75 1.75l-1.75 1.75l-1.75 -1.75zM396.36 102.98l1.75 1.75l-1.75 1.75l-1.75 -1.75zM374.58 122.67l1.75 1.75l-1.75 1.75l-1.75 -1.75zM354.55 134.5l1.75 1.75l-1.75 1.75l-1.75 -1.75zM386.88 110.46l1.75 1.75l-1.75 1.75l-1.75 -1.75zM379.53 113.39l1.75 1.75l-1.75 1.75l-1.75 -1.75zM396.34 102.44l1.75 1.75l-1.75 1.75l-1.75 -1.75zM394.48 104.75l1.75 1.75l-1.75 1.75l-1.75 -1.75zM449.24 75.49l1.75 1.75l-1.75 1.75l-1.75 -1.75zM394.48 107.6l1.75 1.75l-1.75 1.75l-1.75 -1.75zM453.49 65.18l1.75 1.75l-1.75 1.75l-1.75 -1.75zM353.05 132.58l1.75 1.75l-1.75 1.75l-1.75 -1.75zM363.94 127.71l1.75 1.75l-1.75 1.75l-1.75 -1.75zM386.23 110.83l1.75 1.75l-1.75 1.75l-1.75 -1.75zM437.21 75.1l1.75 1.75l-1.75 1.75l-1.75 -1.75zM438.83 78.66l1.75 1.75l-1.75 1.75l-1.75 -1.75zM389.43 112.32l1.75 1.75l-1.75 1.75l-1.75 -1.75zM382.41 117.19l1.75 1.75l-1.75 1.75l-1.75 -1.75zM453.04 67.74l1.75 1.75l-1.75 1.75l-1.75 -1.75zM424.49 91.34l1.75 1.75l-1.75 1.75l-1.75 -1.75zM430.85 85.17l1.75 1.75l-1.75 1.75l-1.75 -1.75zM446.19 77.58l1.75 1.75l-1.75 1.75l-1.75 -1.75zM432.18 86.86l1.75 1.75l-1.75 1.75l-1.75 -1.75zM376.28 119.33l1.75 1.75l-1.75 1.75l-1.75 -1.75zM422.15 86.77l1.75 1.75l-1.75 1.75l-1.75 -1.75zM388.82 107.69l1.75 1.75l-1.75 1.75l-1.75 -1.75zM456.88 63.25l1.75 1.75l-1.75 1.75l-1.75 -1.75zM398.67 107.04l1.75 1.75l-1.75 1.75l-1.75 -1.75zM363.56 129.58l1.75 1.75l-1.75 1.75l-1.75 -1.75zM356.37 129.22l1.75 1.75l-1.75 1.75l-1.75 -1.75zM383.44 112.73l1.75 1.75l-1.75 1.75l-1.75 -1.75zM452.03 73.25l1.75 1.75l-1.75 1.75l-1.75 -1.75zM433.15 80.16l1.75 1.75l-1.75 1.75l-1.75 -1.75zM406.67 95.99l1.75 1.75l-1.75 1.75l-1.75 -1.75zM441.86 73.8l1.75 1.75l-1.75 1.75l-1.75 -1.75zM375.44 119.98l1.75 1.75l-1.75 1.75l-1.75 -1.75zM359.22 128.8l1.75 1.75l-1.75 1.75l-1.75 -1.75zM453.07 62.51l1.75 1.75l-1.75 1.75l-1.75 -1.75zM358.21 128.88l1.75 1.75l-1.75 1.75l-1.75 -1.75zM371.37 121.25l1.75 1.75l-1.75 1.75l-1.75 -1.75zM371.27 120.81l1.75 1.75l-1.75 1.75l-1.75 -1.75zM370.82 120.47l1.75 1.75l-1.75 1.75l-1.75 -1.75zM414.88 91.35l1.75 1.75l-1.75 1.75l-1.75 -1.75zM386.11 114.02l1.75 1.75l-1.75 1.75l-1.75 -1.75zM348.46 135.28l1.75 1.75l-1.75 1.75l-1.75 -1.75zM443.95 72.87l1.75 1.75l-1.75 1.75l-1.75 -1.75zM435.24 75.3l1.75 1.75l-1.75 1.75l-1.75 -1.75zM404.28 103.07l1.75 1.75l-1.75 1.75l-1.75 -1.75zM381.9 116.72l1.75 1.75l-1.75 1.75l-1.75 -1.75zM414.86 91.94l1.75 1.75l-1.75 1.75l-1.75 -1.75zM461.68 60.54l1.75 1.75l-1.75 1.75l-1.75 -1.75zM398.33 104.93l1.75 1.75l-1.75 1.75l-1.75 -1.75zM379.34 118.85l1.75 1.75l-1.75 1.75l-1.75 -1.75zM413.3 94.86l1.75 1.75l-1.75 1.75l-1.75 -1.75zM406.17 103.14l1.75 1.75l-1.75 1.75l-1.75 -1.75zM460.66 67.23l1.75 1.75l-1.75 1.75l-1.75 -1.75zM396 104.72l1.75 1.75l-1.75 1.75l-1.75 -1.75zM404.5 95.75l1.75 1.75l-1.75 1.75l-1.75 -1.75zM354.1 135.67l1.75 1.75l-1.75 1.75l-1.75 -1.75zM356.51 133.87l1.75 1.75l-1.75 1.75l-1.75 -1.75zM423.25 91.76l1.75 1.75l-1.75 1.75l-1.75 -1.75zM350.36 134.74l1.75 1.75l-1.75 1.75l-1.75 -1.75zM437.55 72.27l1.75 1.75l-1.75 1.75l-1.75 -1.75zM353.82 132.62l1.75 1.75l-1.75 1.75l-1.75 -1.75zM361.95 125.99l1.75 1.75l-1.75 1.75l-1.75 -1.75zM422.04 83.99l1.75 1.75l-1.75 1.75l-1.75 -1.75zM458.55 66.04l1.75 1.75l-1.75 1.75l-1.75 -1.75zM347.02 139.65l1.75 1.75l-1.75 1.75l-1.75 -1.75zM370.22 122.39l1.75 1.75l-1.75 1.75l-1.75 -1.75zM408.61 93.74l1.75 1.75l-1.75 1.75l-1.75 -1.75zM401.76 97.78l1.75 1.75l-1.75 1.75l-1.75 -1.75zM365.15 128.33l1.75 1.75l-1.75 1.75l-1.75 -1.75zM440.47 76.3l1.75 1.75l-1.75 1.75l-1.75 -1.75zM423.5 91.19l1.75 1.75l-1.75 1.75l-1.75 -1.75zM357.94 130.6l1.75 1.75l-1.75 1.75l-1.75 -1.75zM356.94 129.29l1.75 1.75l-1.75 1.75l-1.75 -1.75zM354.1 131.73l1.75 1.75l-1.75 1.75l-1.75 -1.75zM347.43 136.31l1.75 1.75l-1.75 1.75l-1.75 -1.75zM386.87 112.42l1.75 1.75l-1.75 1.75l-1.75 -1.75zM444.89 78.01l1.75 1.75l-1.75 1.75l-1.75 -1.75zM427.83 84.47l1.75 1.75l-1.75 1.75l-1.75 -1.75zM451.96 64.14l1.75 1.75l-1.75 1.75l-1.75 -1.75zM353.76 135l1.75 1.75l-1.75 1.75l-1.75 -1.75zM416.88 88.75l1.75 1.75l-1.75 1.75l-1.75 -1.75zM386.65 110.1l1.75 1.75l-1.75 1.75l-1.75 -1.75zM393.13 106.76l1.75 1.75l-1.75 1.75l-1.75 -1.75zM389.18 112.29l1.75 1.75l-1.75 1.75l-1.75 -1.75zM439.19 77.6l1.75 1.75l-1.75 1.75l-1.75 -1.75zM398.21 102.16l1.75 1.75l-1.75 1.75l-1.75 -1.75zM433.61 86.05l1.75 1.75l-1.75 1.75l-1.75 -1.75zM368.72 124.76l1.75 1.75l-1.75 1.75l-1.75 -1.75zM425.59 87.56l1.75 1.75l-1.75 1.75l-1.75 -1.75zM344.7 139.62l1.75 1.75l-1.75 1.75l-1.75 -1.75zM365.44 123.87l1.75 1.75l-1.75 1.75l-1.75 -1.75zM411.15 96.8l1.75 1.75l-1.75 1.75l-1.75 -1.75zM416.68 94.18l1.75 1.75l-1.75 1.75l-1.75 -1.75zM426.02 85.32l1.75 1.75l-1.75 1.75l-1.75 -1.75zM346.78 139.24l1.75 1.75l-1.75 1.75l-1.75 -1.75zM440.59 79.91l1.75 1.75l-1.75 1.75l-1.75 -1.75zM413.37 89.49l1.75 1.75l-1.75 1.75l-1.75 -1.75zM364.7 123.87l1.75 1.75l-1.75 1.75l-1.75 -1.75zM417.94 91.38l1.75 1.75l-1.75 1.75l-1.75 -1.75zM363.56 129.55l1.75 1.75l-1.75 1.75l-1.75 -1.75zM459.34 68.85l1.75 1.75l-1.75 1.75l-1.75 -1.75zM397.13 102.96l1.75 1.75l-1.75 1.75l-1.75 -1.75zM366.27 127.07l1.75 1.75l-1.75 1.75l-1.75 -1.75zM425.81 83.35l1.75 1.75l-1.75 1.75l-1.75 -1.75zM450.2 70.45l1.75 1.75l-1.75 1.75l-1.75 -1.75zM390.94 108.14l1.75 1.75l-1.75 1.75l-1.75 -1.75zM428.18 83.68l1.75 1.75l-1.75 1.75l-1.75 -1.75zM420.77 85.18l1.75 1.75l-1.75 1.75l-1.75 -1.75zM425.98 83.18l1.75 1.75l-1.75 1.75l-1.75 -1.75zM451.17 65.33l1.75 1.75l-1.75 1.75l-1.75 -1.75zM381.32 115.44l1.75 1.75l-1.75 1.75l-1.75 -1.75zM388.48 110.63l1.75 1.75l-1.75 1.75l-1.75 -1.75zM452.78 64.06l1.75 1.75l-1.75 1.75l-1.75 -1.75zM434.43 82.21l1.75 1.75l-1.75 1.75l-1.75 -1.75zM436.13 78.29l1.75 1.75l-1.75 1.75l-1.75 -1.75zM396 104.17l1.75 1.75l-1.75 1.75l-1.75 -1.75zM398.26 101.87l1.75 1.75l-1.75 1.75l-1.75 -1.75zM364.09 126.43l1.75 1.75l-1.75 1.75l-1.75 -1.75zM364.25 126.29l1.75 1.75l-1.75 1.75l-1.75 -1.75zM410.37 94.14l1.75 1.75l-1.75 1.75l-1.75 -1.75zM361.62 128.79l1.75 1.75l-1.75 1.75l-1.75 -1.75zM445.08 69.59l1.75 1.75l-1.75 1.75l-1.75 -1.75zM415.5 94.11l1.75 1.75l-1.75 1.75l-1.75 -1.75zM448.07 73.26l1.75 1.75l-1.75 1.75l-1.75 -1.75zM378.25 115.18l1.75 1.75l-1.75 1.75l-1.75 -1.75zM442.26 72.44l1.75 1.75l-1.75 1.75l-1.75 -1.75zM342.53 142.37l1.75 1.75l-1.75 1.75l-1.75 -1.75zM364.95 124.9l1.75 1.75l-1.75 1.75l-1.75 -1.75zM379.59 114.6l1.75 1.75l-1.75 1.75l-1.75 -1.75zM428.62 82.16l1.75 1.75l-1.75 1.75l-1.75 -1.75zM394.31 105.91l1.75 1.75l-1.75 1.75l-1.75 -1.75zM441.85 69.37l1.75 1.75l-1.75 1.75l-1.75 -1.75zM411.16 91.92l1.75 1.75l-1.75 1.75l-1.75 -1.75zM359.21 130.38l1.75 1.75l-1.75 1.75l-1.75 -1.75zM386.46 108.47l1.75 1.75l-1.75 1.75l-1.75 -1.75zM412.17 98.72l1.75 1.75l-1.75 1.75l-1.75 -1.75zM419.06 90.15l1.75 1.75l-1.75 1.75l-1.75 -1.75zM437.9 82.56l1.75 1.75l-1.75 1.75l-1.75 -1.75zM359.3 128.65l1.75 1.75l-1.75 1.75l-1.75 -1.75zM457.74 70.2l1.75 1.75l-1.75 1.75l-1.75 -1.75zM365.55 126.81l1.75 1.75l-1.75 1.75l-1.75 -1.75zM446.79 72.97l1.75 1.75l-1.75 1.75l-1.75 -1.75zM425.97 85.88l1.75 1.75l-1.75 1.75l-1.75 -1.75zM369.4 121.27l1.75 1.75l-1.75 1.75l-1.75 -1.75zM348.49 137.65l1.75 1.75l-1.75 1.75l-1.75 -1.75zM357.74 131.42l1.75 1.75l-1.75 1.75l-1.75 -1.75zM388.34 110.03l1.75 1.75l-1.75 1.75l-1.75 -1.75zM458.42 62.71l1.75 1.75l-1.75 1.75l-1.75 -1.75zM398.45 102.81l1.75 1.75l-1.75 1.75l-1.75 -1.75zM367.03 122.96l1.75 1.75l-1.75 1.75l-1.75 -1.75zM405.44 102.08l1.75 1.75l-1.75 1.75l-1.75 -1.75zM351.95 136.77l1.75 1.75l-1.75 1.75l-1.75 -1.75zM422.62 83.2l1.75 1.75l-1.75 1.75l-1.75 -1.75zM426.55 84.18l1.75 1.75l-1.75 1.75l-1.75 -1.75zM403.28 97.09l1.75 1.75l-1.75 1.75l-1.75 -1.75zM402.75 101.17l1.75 1.75l-1.75 1.75l-1.75 -1.75zM435.68 80.12l1.75 1.75l-1.75 1.75l-1.75 -1.75zM426.28 87.92l1.75 1.75l-1.75 1.75l-1.75 -1.75zM367.76 121.24l1.75 1.75l-1.75 1.75l-1.75 -1.75zM398.9 100.36l1.75 1.75l-1.75 1.75l-1.75 -1.75zM358.16 129.54l1.75 1.75l-1.75 1.75l-1.75 -1.75zM406.06 99.85l1.75 1.75l-1.75 1.75l-1.75 -1.75zM419.21 94.58l1.75 1.75l-1.75 1.75l-1.75 -1.75zM353.35 133.96l1.75 1.75l-1.75 1.75l-1.75 -1.75zM351.48 135.74l1.75 1.75l-1.75 1.75l-1.75 -1.75zM393.92 103.89l1.75 1.75l-1.75 1.75l-1.75 -1.75zM378.57 118.1l1.75 1.75l-1.75 1.75l-1.75 -1.75zM398.26 107.73l1.75 1.75l-1.75 1.75l-1.75 -1.75zM383.98 112.23l1.75 1.75l-1.75 1.75l-1.75 -1.75zM452.63 69.33l1.75 1.75l-1.75 1.75l-1.75 -1.75zM353.95 134.7l1.75 1.75l-1.75 1.75l-1.75 -1.75zM384.97 116.09l1.75 1.75l-1.75 1.75l-1.75 -1.75zM417.94 94l1.75 1.75l-1.75 1.75l-1.75 -1.75zM449.41 70.23l1.75 1.75l-1.75 1.75l-1.75 -1.75zM458.04 58.14l1.75 1.75l-1.75 1.75l-1.75 -1.75zM382.19 117.04l1.75 1.75l-1.75 1.75l-1.75 -1.75zM341.99 141.9l1.75 1.75l-1.75 1.75l-1.75 -1.75zM461.9 64.75l1.75 1.75l-1.75 1.75l-1.75 -1.75zM445.32 67.66l1.75 1.75l-1.75 1.75l-1.75 -1.75zM406.38 99.59l1.75 1.75l-1.75 1.75l-1.75 -1.75zM393.7 106.32l1.75 1.75l-1.75 1.75l-1.75 -1.75zM436.66 74.66l1.75 1.75l-1.75 1.75l-1.75 -1.75zM346.44 138.66l1.75 1.75l-1.75 1.75l-1.75 -1.75zM457.94 68.77l1.75 1.75l-1.75 1.75l-1.75 -1.75zM422.45 85.81l1.75 1.75l-1.75 1.75l-1.75 -1.75zM450.43 63.65l1.75 1.75l-1.75 1.75l-1.75 -1.75zM370.84 123.93l1.75 1.75l-1.75 1.75l-1.75 -1.75zM449.26 68.99l1.75 1.75l-1.75 1.75l-1.75 -1.75zM451.01 64.13l1.75 1.75l-1.75 1.75l-1.75 -1.75zM413.23 89.87l1.75 1.75l-1.75 1.75l-1.75 -1.75zM369.24 121.24l1.75 1.75l-1.75 1.75l-1.75 -1.75zM341.76 140.96l1.75 1.75l-1.75 1.75l-1.75 -1.75zM401.52 99.88l1.75 1.75l-1.75 1.75l-1.75 -1.75zM419.85 85.11l1.75 1.75l-1.75 1.75l-1.75 -1.75zM403.61 100.66l1.75 1.75l-1.75 1.75l-1.75 -1.75zM389.78 112.82l1.75 1.75l-1.75 1.75l-1.75 -1.75zM356.32 131.33l1.75 1.75l-1.75 1.75l-1.75 -1.75zM396.64 103.97l1.75 1.75l-1.75 1.75l-1.75 -1.75zM458.82 64.84l1.75 1.75l-1.75 1.75l-1.75 -1.75zM403.49 99.97l1.75 1.75l-1.75 1.75l-1.75 -1.75zM393.93 110.5l1.75 1.75l-1.75 1.75l-1.75 -1.75zM437.7 79.57l1.75 1.75l-1.75 1.75l-1.75 -1.75zM360.65 129.37l1.75 1.75l-1.75 1.75l-1.75 -1.75zM356.47 130.84l1.75 1.75l-1.75 1.75l-1.75 -1.75zM343.79 140.87l1.75 1.75l-1.75 1.75l-1.75 -1.75zM459.27 65.41l1.75 1.75l-1.75 1.75l-1.75 -1.75zM409.94 93.88l1.75 1.75l-1.75 1.75l-1.75 -1.75zM394.53 106.14l1.75 1.75l-1.75 1.75l-1.75 -1.75zM392.18 106.13l1.75 1.75l-1.75 1.75l-1.75 -1.75zM367.54 125.81l1.75 1.75l-1.75 1.75l-1.75 -1.75zM456.25 69.78l1.75 1.75l-1.75 1.75l-1.75 -1.75zM416.21 87.41l1.75 1.75l-1.75 1.75l-1.75 -1.75zM377.57 119.98l1.75 1.75l-1.75 1.75l-1.75 -1.75zM458.7 64.6l1.75 1.75l-1.75 1.75l-1.75 -1.75zM409.84 98.05l1.75 1.75l-1.75 1.75l-1.75 -1.75zM370.9 123.41l1.75 1.75l-1.75 1.75l-1.75 -1.75zM385.17 115.21l1.75 1.75l-1.75 1.75l-1.75 -1.75zM396.87 106.25l1.75 1.75l-1.75 1.75l-1.75 -1.75zM429.98 90.86l1.75 1.75l-1.75 1.75l-1.75 -1.75zM414.74 101.74l1.75 1.75l-1.75 1.75l-1.75 -1.75zM461.77 70.75l1.75 1.75l-1.75 1.75l-1.75 -1.75zM421.86 97.16l1.75 1.75l-1.75 1.75l-1.75 -1.75zM460.52 72.39l1.75 1.75l-1.75 1.75l-1.75 -1.75zM494.41 49.31l1.75 1.75l-1.75 1.75l-1.75 -1.75zM436.68 87.04l1.75 1.75l-1.75 1.75l-1.75 -1.75zM413.74 102.4l1.75 1.75l-1.75 1.75l-1.75 -1.75zM495.8 49.54l1.75 1.75l-1.75 1.75l-1.75 -1.75zM439.61 85.74l1.75 1.75l-1.75 1.75l-1.75 -1.75zM452.38 76.36l1.75 1.75l-1.75 1.75l-1.75 -1.75zM468.71 66.17l1.75 1.75l-1.75 1.75l-1.75 -1.75zM364.5 131.81l1.75 1.75l-1.75 1.75l-1.75 -1.75zM444.88 81.18l1.75 1.75l-1.75 1.75l-1.75 -1.75zM420.82 98.12l1.75 1.75l-1.75 1.75l-1.75 -1.75zM470.29 65.42l1.75 1.75l-1.75 1.75l-1.75 -1.75zM486.87 55.77l1.75 1.75l-1.75 1.75l-1.75 -1.75zM405.79 106.22l1.75 1.75l-1.75 1.75l-1.75 -1.75zM466.37 69.7l1.75 1.75l-1.75 1.75l-1.75 -1.75zM448.25 80.04l1.75 1.75l-1.75 1.75l-1.75 -1.75zM405.13 104.56l1.75 1.75l-1.75 1.75l-1.75 -1.75zM413.76 99.45l1.75 1.75l-1.75 1.75l-1.75 -1.75zM491.76 51.93l1.75 1.75l-1.75 1.75l-1.75 -1.75zM437.8 86.73l1.75 1.75l-1.75 1.75l-1.75 -1.75zM369.58 129.21l1.75 1.75l-1.75 1.75l-1.75 -1.75zM393.1 112.18l1.75 1.75l-1.75 1.75l-1.75 -1.75zM436.96 86.06l1.75 1.75l-1.75 1.75l-1.75 -1.75zM488.06 54.55l1.75 1.75l-1.75 1.75l-1.75 -1.75zM356.11 135l1.75 1.75l-1.75 1.75l-1.75 -1.75zM345.86 142.82l1.75 1.75l-1.75 1.75l-1.75 -1.75zM455.27 73.41l1.75 1.75l-1.75 1.75l-1.75 -1.75zM393.77 113.09l1.75 1.75l-1.75 1.75l-1.75 -1.75zM484.61 58.73l1.75 1.75l-1.75 1.75l-1.75 -1.75zM481.02 59.67l1.75 1.75l-1.75 1.75l-1.75 -1.75zM433.01 87.87l1.75 1.75l-1.75 1.75l-1.75 -1.75zM438.96 83.97l1.75 1.75l-1.75 1.75l-1.75 -1.75zM389.51 116.89l1.75 1.75l-1.75 1.75l-1.75 -1.75zM431.9 90.36l1.75 1.75l-1.75 1.75l-1.75 -1.75zM415.46 98.97l1.75 1.75l-1.75 1.75l-1.75 -1.75zM421.59 96.19l1.75 1.75l-1.75 1.75l-1.75 -1.75zM379.68 123.01l1.75 1.75l-1.75 1.75l-1.75 -1.75zM497.98 47.35l1.75 1.75l-1.75 1.75l-1.75 -1.75zM379.75 122.86l1.75 1.75l-1.75 1.75l-1.75 -1.75zM456.49 73.29l1.75 1.75l-1.75 1.75l-1.75 -1.75zM434.75 86.84l1.75 1.75l-1.75 1.75l-1.75 -1.75zM479.05 60.68l1.75 1.75l-1.75 1.75l-1.75 -1.75zM422.73 94.04l1.75 1.75l-1.75 1.75l-1.75 -1.75zM405.92 105.55l1.75 1.75l-1.75 1.75l-1.75 -1.75zM398.89 108.92l1.75 1.75l-1.75 1.75l-1.75 -1.75zM372.71 126.85l1.75 1.75l-1.75 1.75l-1.75 -1.75zM488.99 55.54l1.75 1.75l-1.75 1.75l-1.75 -1.75zM439.43 85.94l1.75 1.75l-1.75 1.75l-1.75 -1.75zM362.38 131.7l1.75 1.75l-1.75 1.75l-1.75 -1.75zM453.6 74.26l1.75 1.75l-1.75 1.75l-1.75 -1.75zM354.43 138.39l1.75 1.75l-1.75 1.75l-1.75 -1.75zM372.51 125.33l1.75 1.75l-1.75 1.75l-1.75 -1.75zM404.27 107.8l1.75 1.75l-1.75 1.75l-1.75 -1.75zM342.66 145.96l1.75 1.75l-1.75 1.75l-1.75 -1.75zM389.78 115.87l1.75 1.75l-1.75 1.75l-1.75 -1.75zM416.62 97.7l1.75 1.75l-1.75 1.75l-1.75 -1.75zM494.33 49.6l1.75 1.75l-1.75 1.75l-1.75 -1.75zM469.79 67.52l1.75 1.75l-1.75 1.75l-1.75 -1.75zM413.63 102.46l1.75 1.75l-1.75 1.75l-1.75 -1.75zM351.06 138.54l1.75 1.75l-1.75 1.75l-1.75 -1.75zM418.4 96.43l1.75 1.75l-1.75 1.75l-1.75 -1.75zM470.25 65.9l1.75 1.75l-1.75 1.75l-1.75 -1.75zM468.82 65.87l1.75 1.75l-1.75 1.75l-1.75 -1.75zM345.35 144.33l1.75 1.75l-1.75 1.75l-1.75 -1.75zM374.34 124.93l1.75 1.75l-1.75 1.75l-1.75 -1.75zM361.11 133.67l1.75 1.75l-1.75 1.75l-1.75 -1.75zM415.23 98.83l1.75 1.75l-1.75 1.75l-1.75 -1.75zM347.26 141.48l1.75 1.75l-1.75 1.75l-1.75 -1.75zM466.36 66.89l1.75 1.75l-1.75 1.75l-1.75 -1.75zM377.54 123.6l1.75 1.75l-1.75 1.75l-1.75 -1.75zM442.61 84.02l1.75 1.75l-1.75 1.75l-1.75 -1.75zM444.21 83.2l1.75 1.75l-1.75 1.75l-1.75 -1.75zM365.86 131.78l1.75 1.75l-1.75 1.75l-1.75 -1.75zM345.61 141.84l1.75 1.75l-1.75 1.75l-1.75 -1.75zM357.58 136.44l1.75 1.75l-1.75 1.75l-1.75 -1.75zM421.74 97.32l1.75 1.75l-1.75 1.75l-1.75 -1.75zM496.1 49.76l1.75 1.75l-1.75 1.75l-1.75 -1.75zM440.19 83.96l1.75 1.75l-1.75 1.75l-1.75 -1.75zM493.36 50.99l1.75 1.75l-1.75 1.75l-1.75 -1.75zM375.38 125.76l1.75 1.75l-1.75 1.75l-1.75 -1.75zM348.15 141.83l1.75 1.75l-1.75 1.75l-1.75 -1.75zM444.01 82.41l1.75 1.75l-1.75 1.75l-1.75 -1.75zM478.47 60.52l1.75 1.75l-1.75 1.75l-1.75 -1.75zM366.22 132.04l1.75 1.75l-1.75 1.75l-1.75 -1.75zM497.09 48.48l1.75 1.75l-1.75 1.75l-1.75 -1.75zM419.5 97.02l1.75 1.75l-1.75 1.75l-1.75 -1.75zM354.87 139l1.75 1.75l-1.75 1.75l-1.75 -1.75zM494.08 49.04l1.75 1.75l-1.75 1.75l-1.75 -1.75zM472.23 64.85l1.75 1.75l-1.75 1.75l-1.75 -1.75zM399.6 111.02l1.75 1.75l-1.75 1.75l-1.75 -1.75zM369.14 129.12l1.75 1.75l-1.75 1.75l-1.75 -1.75zM432.8 89.94l1.75 1.75l-1.75 1.75l-1.75 -1.75zM428.04 91.08l1.75 1.75l-1.75 1.75l-1.75 -1.75zM489.13 53.29l1.75 1.75l-1.75 1.75l-1.75 -1.75zM465.73 67.39l1.75 1.75l-1.75 1.75l-1.75 -1.75zM396.89 110.93l1.75 1.75l-1.75 1.75l-1.75 -1.75zM373.95 126.39l1.75 1.75l-1.75 1.75l-1.75 -1.75zM408.71 104.76l1.75 1.75l-1.75 1.75l-1.75 -1.75zM474.21 62.24l1.75 1.75l-1.75 1.75l-1.75 -1.75zM488.45 53.92l1.75 1.75l-1.75 1.75l-1.75 -1.75zM398.45 110.17l1.75 1.75l-1.75 1.75l-1.75 -1.75zM493.18 50.92l1.75 1.75l-1.75 1.75l-1.75 -1.75zM351.66 141.19l1.75 1.75l-1.75 1.75l-1.75 -1.75zM403.58 107.46l1.75 1.75l-1.75 1.75l-1.75 -1.75zM463.66 68.69l1.75 1.75l-1.75 1.75l-1.75 -1.75zM386.59 118.58l1.75 1.75l-1.75 1.75l-1.75 -1.75zM485.21 54.63l1.75 1.75l-1.75 1.75l-1.75 -1.75zM474.28 63.12l1.75 1.75l-1.75 1.75l-1.75 -1.75zM372.48 127.86l1.75 1.75l-1.75 1.75l-1.75 -1.75zM441.28 84.13l1.75 1.75l-1.75 1.75l-1.75 -1.75zM428.25 91.48l1.75 1.75l-1.75 1.75l-1.75 -1.75zM422.9 94.71l1.75 1.75l-1.75 1.75l-1.75 -1.75zM415.58 99.78l1.75 1.75l-1.75 1.75l-1.75 -1.75zM361.54 133.81l1.75 1.75l-1.75 1.75l-1.75 -1.75zM398.38 110.71l1.75 1.75l-1.75 1.75l-1.75 -1.75zM432.31 89.93l1.75 1.75l-1.75 1.75l-1.75 -1.75zM385.16 119.53l1.75 1.75l-1.75 1.75l-1.75 -1.75zM397.36 110.96l1.75 1.75l-1.75 1.75l-1.75 -1.75zM366.67 132.28l1.75 1.75l-1.75 1.75l-1.75 -1.75zM489.51 53.68l1.75 1.75l-1.75 1.75l-1.75 -1.75zM371.59 127.21l1.75 1.75l-1.75 1.75l-1.75 -1.75zM361.17 134.21l1.75 1.75l-1.75 1.75l-1.75 -1.75zM411.07 101.7l1.75 1.75l-1.75 1.75l-1.75 -1.75zM410.43 103.74l1.75 1.75l-1.75 1.75l-1.75 -1.75zM474.27 61.85l1.75 1.75l-1.75 1.75l-1.75 -1.75zM345.28 145.52l1.75 1.75l-1.75 1.75l-1.75 -1.75zM403.93 106.98l1.75 1.75l-1.75 1.75l-1.75 -1.75zM368.97 129.16l1.75 1.75l-1.75 1.75l-1.75 -1.75zM386.27 118.1l1.75 1.75l-1.75 1.75l-1.75 -1.75zM381.09 122.03l1.75 1.75l-1.75 1.75l-1.75 -1.75zM471.05 64.19l1.75 1.75l-1.75 1.75l-1.75 -1.75zM409.53 103.82l1.75 1.75l-1.75 1.75l-1.75 -1.75zM475.55 62.42l1.75 1.75l-1.75 1.75l-1.75 -1.75zM497.74 46.85l1.75 1.75l-1.75 1.75l-1.75 -1.75zM469.85 64.92l1.75 1.75l-1.75 1.75l-1.75 -1.75zM434.37 88.1l1.75 1.75l-1.75 1.75l-1.75 -1.75z" fill="none" stroke="#b2b2b2" stroke-width="0.55"/>
<line x1="325.3" y1="159.3" x2="558.9" y2="10.4" stroke="#2c2c2c" stroke-width="1" stroke-dasharray="3.5 3.5"/>
<line x1="341" y1="145.6" x2="501" y2="46" stroke="#ff1414" stroke-width="1.25"/>
<line x1="558.9" y1="10.4" x2="558.9" y2="159.3" stroke="#6a6a6a" stroke-width="1.8" stroke-linecap="square"/>
<line x1="325.3" y1="159.3" x2="558.9" y2="159.3" stroke="#111" stroke-width="1.2" stroke-linecap="square"/>
<line x1="325.3" y1="10.4" x2="558.9" y2="10.4" stroke="#111" stroke-width="1.2" stroke-linecap="square"/>
<line x1="325.3" y1="10.4" x2="325.3" y2="159.3" stroke="#111" stroke-width="1.2" stroke-linecap="square"/>
<path d="M325.3 159.3v1.8M325.3 10.4v-1.8M325.3 159.3h-1.8M558.9 159.3h1.8M346.54 159.3v3.2M346.54 10.4v-3.2M325.3 145.76h-3.2M558.9 145.76h3.2M367.77 159.3v1.8M367.77 10.4v-1.8M325.3 132.23h-1.8M558.9 132.23h1.8M389.01 159.3v3.2M389.01 10.4v-3.2M325.3 118.69h-3.2M558.9 118.69h3.2M410.25 159.3v1.8M410.25 10.4v-1.8M325.3 105.15h-1.8M558.9 105.15h1.8M431.48 159.3v3.2M431.48 10.4v-3.2M325.3 91.62h-3.2M558.9 91.62h3.2M452.72 159.3v1.8M452.72 10.4v-1.8M325.3 78.08h-1.8M558.9 78.08h1.8M473.95 159.3v3.2M473.95 10.4v-3.2M325.3 64.55h-3.2M558.9 64.55h3.2M495.19 159.3v1.8M495.19 10.4v-1.8M325.3 51.01h-1.8M558.9 51.01h1.8M516.43 159.3v3.2M516.43 10.4v-3.2M325.3 37.47h-3.2M558.9 37.47h3.2M537.66 159.3v1.8M537.66 10.4v-1.8M325.3 23.94h-1.8M558.9 23.94h1.8M558.9 159.3v3.2M558.9 10.4v-3.2M325.3 10.4h-3.2M558.9 10.4h3.2" stroke="#111" stroke-width="0.95" fill="none"/>
<text x="346.54" y="174.7" text-anchor="middle" class="tl">0.1</text>
<text x="320" y="149.66" text-anchor="end" class="tl">0.1</text>
<text x="389.01" y="174.7" text-anchor="middle" class="tl">0.2</text>
<text x="320" y="122.59" text-anchor="end" class="tl">0.2</text>
<text x="431.48" y="174.7" text-anchor="middle" class="tl">0.3</text>
<text x="320" y="95.52" text-anchor="end" class="tl">0.3</text>
<text x="473.95" y="174.7" text-anchor="middle" class="tl">0.4</text>
<text x="320" y="68.45" text-anchor="end" class="tl">0.4</text>
<text x="516.43" y="174.7" text-anchor="middle" class="tl">0.5</text>
<text x="320" y="41.37" text-anchor="end" class="tl">0.5</text>
<text x="558.9" y="174.7" text-anchor="middle" class="tl">0.6</text>
<text x="320" y="14.3" text-anchor="end" class="tl">0.6</text>
<text transform="translate(328.55 191.9) scale(1.0537 1)" class="at">DgN<tspan class="sub" dy="4">p</tspan><tspan dy="-4"> (Nosratieh et al. 2015) (mGy/mGy)</tspan></text>
<text transform="translate(296.8 166) rotate(-90)" x="0" y="0" class="at" textLength="162.4" lengthAdjust="spacingAndGlyphs">DgN<tspan class="sub" dy="4">p</tspan><tspan dy="-4"> (This work) (mGy/mGy)</tspan></text>
<text transform="translate(287.9 192.8) scale(0.93 1)" class="pl">b<tspan dx="2.2">)</tspan></text>
<rect x="330.8" y="20.8" width="157.1" height="15.9" fill="#000"/>
<rect x="328.5" y="18.5" width="157.1" height="15.9" fill="#fff" stroke="#c8c8c8" stroke-width="0.8"/>
<text transform="translate(333.68 30.6) scale(1.0676 1)" class="hv">HVL range 0.4 - 0.5 mmAl</text>
<rect x="459.6" y="101.5" width="88.8" height="46.5" fill="#fff" stroke="#cfcfcf" stroke-width="0.8"/>
<text transform="translate(463.6 112) scale(1.0115 1)" class="ft">Fit curve: Y = a*X + b</text>
<text transform="translate(464.3 122) scale(0.9948 1)" class="ft fb">a&#160; = 0.9801 &#177; 0.0036</text>
<text transform="translate(463.6 132.4) scale(1.0145 1)" class="ft fb">b&#160; = 0.0156 &#177; 0.0009</text>
<text transform="translate(463.6 144) scale(1.0200 1)" class="ft">R<tspan class="sup" dy="-3.9">2</tspan><tspan dy="3.9">= 0.9843</tspan></text>
<path d="M108.18 324.37l1.75 1.75l-1.75 1.75l-1.75 -1.75zM130.88 309.96l1.75 1.75l-1.75 1.75l-1.75 -1.75zM174.87 278.96l1.75 1.75l-1.75 1.75l-1.75 -1.75zM69.51 350.41l1.75 1.75l-1.75 1.75l-1.75 -1.75zM111.86 320.72l1.75 1.75l-1.75 1.75l-1.75 -1.75zM238.5 239.77l1.75 1.75l-1.75 1.75l-1.75 -1.75zM211.12 257.51l1.75 1.75l-1.75 1.75l-1.75 -1.75zM177.17 277.88l1.75 1.75l-1.75 1.75l-1.75 -1.75zM176.45 281.85l1.75 1.75l-1.75 1.75l-1.75 -1.75zM157.24 293.59l1.75 1.75l-1.75 1.75l-1.75 -1.75zM182.73 273.83l1.75 1.75l-1.75 1.75l-1.75 -1.75zM197.67 266.8l1.75 1.75l-1.75 1.75l-1.75 -1.75zM119.07 315.18l1.75 1.75l-1.75 1.75l-1.75 -1.75zM216.12 254.26l1.75 1.75l-1.75 1.75l-1.75 -1.75zM190.89 272.63l1.75 1.75l-1.75 1.75l-1.75 -1.75zM190.08 273.36l1.75 1.75l-1.75 1.75l-1.75 -1.75zM135.18 308.05l1.75 1.75l-1.75 1.75l-1.75 -1.75zM143.72 303.16l1.75 1.75l-1.75 1.75l-1.75 -1.75zM218.42 250.76l1.75 1.75l-1.75 1.75l-1.75 -1.75zM90.64 334.43l1.75 1.75l-1.75 1.75l-1.75 -1.75zM233.31 242.94l1.75 1.75l-1.75 1.75l-1.75 -1.75zM175.03 280l1.75 1.75l-1.75 1.75l-1.75 -1.75zM154.5 293.72l1.75 1.75l-1.75 1.75l-1.75 -1.75zM127.61 311.99l1.75 1.75l-1.75 1.75l-1.75 -1.75zM167.74 287.61l1.75 1.75l-1.75 1.75l-1.75 -1.75zM184.55 276.94l1.75 1.75l-1.75 1.75l-1.75 -1.75zM214.55 258.03l1.75 1.75l-1.75 1.75l-1.75 -1.75zM182.71 274.34l1.75 1.75l-1.75 1.75l-1.75 -1.75zM215.28 257.42l1.75 1.75l-1.75 1.75l-1.75 -1.75zM222.86 250.42l1.75 1.75l-1.75 1.75l-1.75 -1.75zM190.03 269.82l1.75 1.75l-1.75 1.75l-1.75 -1.75zM210.29 258.56l1.75 1.75l-1.75 1.75l-1.75 -1.75zM116.26 317.14l1.75 1.75l-1.75 1.75l-1.75 -1.75zM214.13 258.29l1.75 1.75l-1.75 1.75l-1.75 -1.75zM82.48 341.94l1.75 1.75l-1.75 1.75l-1.75 -1.75zM137.85 303.46l1.75 1.75l-1.75 1.75l-1.75 -1.75zM117.8 319.09l1.75 1.75l-1.75 1.75l-1.75 -1.75zM217.37 251.16l1.75 1.75l-1.75 1.75l-1.75 -1.75zM172.95 280.12l1.75 1.75l-1.75 1.75l-1.75 -1.75zM190.82 269.91l1.75 1.75l-1.75 1.75l-1.75 -1.75zM218.77 255.27l1.75 1.75l-1.75 1.75l-1.75 -1.75zM154.18 296.75l1.75 1.75l-1.75 1.75l-1.75 -1.75zM120.51 314.43l1.75 1.75l-1.75 1.75l-1.75 -1.75zM170.41 281.71l1.75 1.75l-1.75 1.75l-1.75 -1.75zM101.2 328.33l1.75 1.75l-1.75 1.75l-1.75 -1.75zM172.25 281.11l1.75 1.75l-1.75 1.75l-1.75 -1.75zM74.55 347.29l1.75 1.75l-1.75 1.75l-1.75 -1.75zM121.23 317.69l1.75 1.75l-1.75 1.75l-1.75 -1.75zM221.48 250.28l1.75 1.75l-1.75 1.75l-1.75 -1.75zM146.44 299.54l1.75 1.75l-1.75 1.75l-1.75 -1.75zM178 279.52l1.75 1.75l-1.75 1.75l-1.75 -1.75zM163.44 289.03l1.75 1.75l-1.75 1.75l-1.75 -1.75zM229.04 246.09l1.75 1.75l-1.75 1.75l-1.75 -1.75zM141.41 303.68l1.75 1.75l-1.75 1.75l-1.75 -1.75zM108.12 323.41l1.75 1.75l-1.75 1.75l-1.75 -1.75zM235.43 242.04l1.75 1.75l-1.75 1.75l-1.75 -1.75zM161.58 287.37l1.75 1.75l-1.75 1.75l-1.75 -1.75zM138.67 304.83l1.75 1.75l-1.75 1.75l-1.75 -1.75zM70.7 348.84l1.75 1.75l-1.75 1.75l-1.75 -1.75zM175.99 278.21l1.75 1.75l-1.75 1.75l-1.75 -1.75zM175.15 280.73l1.75 1.75l-1.75 1.75l-1.75 -1.75zM184.09 274.38l1.75 1.75l-1.75 1.75l-1.75 -1.75zM188.85 273.23l1.75 1.75l-1.75 1.75l-1.75 -1.75zM71.07 346.58l1.75 1.75l-1.75 1.75l-1.75 -1.75zM183.53 277.77l1.75 1.75l-1.75 1.75l-1.75 -1.75zM110.44 322.55l1.75 1.75l-1.75 1.75l-1.75 -1.75zM169.19 283.88l1.75 1.75l-1.75 1.75l-1.75 -1.75zM129.85 309.37l1.75 1.75l-1.75 1.75l-1.75 -1.75zM130.74 310.01l1.75 1.75l-1.75 1.75l-1.75 -1.75zM118.92 316.73l1.75 1.75l-1.75 1.75l-1.75 -1.75zM200.08 262.34l1.75 1.75l-1.75 1.75l-1.75 -1.75zM165.16 288.46l1.75 1.75l-1.75 1.75l-1.75 -1.75zM120.57 315.01l1.75 1.75l-1.75 1.75l-1.75 -1.75zM205.5 259.91l1.75 1.75l-1.75 1.75l-1.75 -1.75zM99.48 329.55l1.75 1.75l-1.75 1.75l-1.75 -1.75zM187.32 271.04l1.75 1.75l-1.75 1.75l-1.75 -1.75zM122.63 314.14l1.75 1.75l-1.75 1.75l-1.75 -1.75zM210.62 257.64l1.75 1.75l-1.75 1.75l-1.75 -1.75zM214.4 253.76l1.75 1.75l-1.75 1.75l-1.75 -1.75zM125.16 313.85l1.75 1.75l-1.75 1.75l-1.75 -1.75zM219.45 251.99l1.75 1.75l-1.75 1.75l-1.75 -1.75zM105.95 324.09l1.75 1.75l-1.75 1.75l-1.75 -1.75zM158.35 290.31l1.75 1.75l-1.75 1.75l-1.75 -1.75zM206.02 262.7l1.75 1.75l-1.75 1.75l-1.75 -1.75zM98.83 329.36l1.75 1.75l-1.75 1.75l-1.75 -1.75zM206.09 261.63l1.75 1.75l-1.75 1.75l-1.75 -1.75zM205.93 260.19l1.75 1.75l-1.75 1.75l-1.75 -1.75zM89.56 335.43l1.75 1.75l-1.75 1.75l-1.75 -1.75zM203.79 261.19l1.75 1.75l-1.75 1.75l-1.75 -1.75zM126.82 311.78l1.75 1.75l-1.75 1.75l-1.75 -1.75zM139.45 303.57l1.75 1.75l-1.75 1.75l-1.75 -1.75zM225.6 246.41l1.75 1.75l-1.75 1.75l-1.75 -1.75zM68.05 351.73l1.75 1.75l-1.75 1.75l-1.75 -1.75zM218.61 255.41l1.75 1.75l-1.75 1.75l-1.75 -1.75zM141.96 304.36l1.75 1.75l-1.75 1.75l-1.75 -1.75zM226.76 246.01l1.75 1.75l-1.75 1.75l-1.75 -1.75zM195.48 269.46l1.75 1.75l-1.75 1.75l-1.75 -1.75zM181.28 277.02l1.75 1.75l-1.75 1.75l-1.75 -1.75zM116.97 317.84l1.75 1.75l-1.75 1.75l-1.75 -1.75zM106.37 323.6l1.75 1.75l-1.75 1.75l-1.75 -1.75zM168.5 284.17l1.75 1.75l-1.75 1.75l-1.75 -1.75zM206.6 258.18l1.75 1.75l-1.75 1.75l-1.75 -1.75zM222.67 251.22l1.75 1.75l-1.75 1.75l-1.75 -1.75zM226.15 250.08l1.75 1.75l-1.75 1.75l-1.75 -1.75zM221.99 251.02l1.75 1.75l-1.75 1.75l-1.75 -1.75zM69.51 350.08l1.75 1.75l-1.75 1.75l-1.75 -1.75zM96.8 330.75l1.75 1.75l-1.75 1.75l-1.75 -1.75zM181.27 277.06l1.75 1.75l-1.75 1.75l-1.75 -1.75zM138.42 306.58l1.75 1.75l-1.75 1.75l-1.75 -1.75zM172.54 281.81l1.75 1.75l-1.75 1.75l-1.75 -1.75zM110.68 324.06l1.75 1.75l-1.75 1.75l-1.75 -1.75zM149.33 298.87l1.75 1.75l-1.75 1.75l-1.75 -1.75zM127.77 310.22l1.75 1.75l-1.75 1.75l-1.75 -1.75zM159.21 292.68l1.75 1.75l-1.75 1.75l-1.75 -1.75zM96.71 332.75l1.75 1.75l-1.75 1.75l-1.75 -1.75zM225.79 249.82l1.75 1.75l-1.75 1.75l-1.75 -1.75zM208.89 256.49l1.75 1.75l-1.75 1.75l-1.75 -1.75zM175.37 282.51l1.75 1.75l-1.75 1.75l-1.75 -1.75zM75.84 344.25l1.75 1.75l-1.75 1.75l-1.75 -1.75zM113.45 320.9l1.75 1.75l-1.75 1.75l-1.75 -1.75zM140 303.49l1.75 1.75l-1.75 1.75l-1.75 -1.75zM200.81 261.74l1.75 1.75l-1.75 1.75l-1.75 -1.75zM76.68 343.17l1.75 1.75l-1.75 1.75l-1.75 -1.75zM88.69 335.13l1.75 1.75l-1.75 1.75l-1.75 -1.75zM234.9 244.23l1.75 1.75l-1.75 1.75l-1.75 -1.75zM82.06 341.08l1.75 1.75l-1.75 1.75l-1.75 -1.75zM121.58 314.74l1.75 1.75l-1.75 1.75l-1.75 -1.75zM127.67 312.22l1.75 1.75l-1.75 1.75l-1.75 -1.75zM168.15 284.75l1.75 1.75l-1.75 1.75l-1.75 -1.75zM100.12 328.72l1.75 1.75l-1.75 1.75l-1.75 -1.75zM88.54 337.1l1.75 1.75l-1.75 1.75l-1.75 -1.75zM190.41 270.42l1.75 1.75l-1.75 1.75l-1.75 -1.75zM80.99 340.56l1.75 1.75l-1.75 1.75l-1.75 -1.75zM131.45 309.6l1.75 1.75l-1.75 1.75l-1.75 -1.75zM201.86 263l1.75 1.75l-1.75 1.75l-1.75 -1.75zM205.05 262.2l1.75 1.75l-1.75 1.75l-1.75 -1.75zM141.48 302.09l1.75 1.75l-1.75 1.75l-1.75 -1.75zM152.59 296.41l1.75 1.75l-1.75 1.75l-1.75 -1.75zM139.58 304.75l1.75 1.75l-1.75 1.75l-1.75 -1.75zM146.51 298.25l1.75 1.75l-1.75 1.75l-1.75 -1.75zM159.41 291.98l1.75 1.75l-1.75 1.75l-1.75 -1.75zM79.56 342.41l1.75 1.75l-1.75 1.75l-1.75 -1.75zM140.5 304.99l1.75 1.75l-1.75 1.75l-1.75 -1.75zM228.33 245.82l1.75 1.75l-1.75 1.75l-1.75 -1.75zM221.68 252.38l1.75 1.75l-1.75 1.75l-1.75 -1.75zM112.34 321.35l1.75 1.75l-1.75 1.75l-1.75 -1.75zM88.43 338.16l1.75 1.75l-1.75 1.75l-1.75 -1.75zM181.16 278.91l1.75 1.75l-1.75 1.75l-1.75 -1.75zM203.55 263.4l1.75 1.75l-1.75 1.75l-1.75 -1.75zM193.45 269.38l1.75 1.75l-1.75 1.75l-1.75 -1.75zM84.99 339.52l1.75 1.75l-1.75 1.75l-1.75 -1.75zM68.09 348.82l1.75 1.75l-1.75 1.75l-1.75 -1.75zM200.43 262.2l1.75 1.75l-1.75 1.75l-1.75 -1.75zM83.04 338.93l1.75 1.75l-1.75 1.75l-1.75 -1.75zM218.69 251.02l1.75 1.75l-1.75 1.75l-1.75 -1.75zM71.29 349.28l1.75 1.75l-1.75 1.75l-1.75 -1.75zM88.11 338.48l1.75 1.75l-1.75 1.75l-1.75 -1.75zM183.1 277.42l1.75 1.75l-1.75 1.75l-1.75 -1.75zM231.06 245.18l1.75 1.75l-1.75 1.75l-1.75 -1.75zM204.63 259.42l1.75 1.75l-1.75 1.75l-1.75 -1.75zM199.25 265.37l1.75 1.75l-1.75 1.75l-1.75 -1.75zM190.26 269.15l1.75 1.75l-1.75 1.75l-1.75 -1.75zM196.07 269.58l1.75 1.75l-1.75 1.75l-1.75 -1.75zM77.77 343.2l1.75 1.75l-1.75 1.75l-1.75 -1.75zM164.25 289.49l1.75 1.75l-1.75 1.75l-1.75 -1.75zM108.9 322.42l1.75 1.75l-1.75 1.75l-1.75 -1.75zM110.24 323.33l1.75 1.75l-1.75 1.75l-1.75 -1.75zM196.86 266.31l1.75 1.75l-1.75 1.75l-1.75 -1.75zM130.46 309.34l1.75 1.75l-1.75 1.75l-1.75 -1.75zM127.5 311.35l1.75 1.75l-1.75 1.75l-1.75 -1.75zM81.57 341.39l1.75 1.75l-1.75 1.75l-1.75 -1.75zM234.62 241.96l1.75 1.75l-1.75 1.75l-1.75 -1.75zM195.8 265.81l1.75 1.75l-1.75 1.75l-1.75 -1.75zM186.07 275.1l1.75 1.75l-1.75 1.75l-1.75 -1.75zM183.15 275.8l1.75 1.75l-1.75 1.75l-1.75 -1.75zM150.45 297.51l1.75 1.75l-1.75 1.75l-1.75 -1.75zM221.6 248.97l1.75 1.75l-1.75 1.75l-1.75 -1.75zM83.74 340.93l1.75 1.75l-1.75 1.75l-1.75 -1.75zM224.91 248.82l1.75 1.75l-1.75 1.75l-1.75 -1.75zM143.46 302.36l1.75 1.75l-1.75 1.75l-1.75 -1.75zM95.12 329.51l1.75 1.75l-1.75 1.75l-1.75 -1.75zM97.08 330.17l1.75 1.75l-1.75 1.75l-1.75 -1.75zM114.4 316.35l1.75 1.75l-1.75 1.75l-1.75 -1.75zM170.75 285.11l1.75 1.75l-1.75 1.75l-1.75 -1.75zM111.56 321.47l1.75 1.75l-1.75 1.75l-1.75 -1.75zM129.13 311.11l1.75 1.75l-1.75 1.75l-1.75 -1.75zM154.8 289.52l1.75 1.75l-1.75 1.75l-1.75 -1.75zM99.84 324.81l1.75 1.75l-1.75 1.75l-1.75 -1.75zM139.05 300.98l1.75 1.75l-1.75 1.75l-1.75 -1.75zM93.04 331.47l1.75 1.75l-1.75 1.75l-1.75 -1.75zM115.48 319.39l1.75 1.75l-1.75 1.75l-1.75 -1.75zM88.76 338.02l1.75 1.75l-1.75 1.75l-1.75 -1.75zM139.07 302.68l1.75 1.75l-1.75 1.75l-1.75 -1.75zM137.34 305.65l1.75 1.75l-1.75 1.75l-1.75 -1.75zM190.29 268.62l1.75 1.75l-1.75 1.75l-1.75 -1.75zM139.32 303.47l1.75 1.75l-1.75 1.75l-1.75 -1.75zM195.53 263.58l1.75 1.75l-1.75 1.75l-1.75 -1.75zM177.1 281.09l1.75 1.75l-1.75 1.75l-1.75 -1.75zM137.24 300.99l1.75 1.75l-1.75 1.75l-1.75 -1.75zM102.41 327.52l1.75 1.75l-1.75 1.75l-1.75 -1.75zM168.38 286.68l1.75 1.75l-1.75 1.75l-1.75 -1.75zM195.12 262.25l1.75 1.75l-1.75 1.75l-1.75 -1.75zM95.65 329.11l1.75 1.75l-1.75 1.75l-1.75 -1.75zM95.28 332.08l1.75 1.75l-1.75 1.75l-1.75 -1.75zM195.82 268.45l1.75 1.75l-1.75 1.75l-1.75 -1.75zM105.44 326.5l1.75 1.75l-1.75 1.75l-1.75 -1.75zM114.18 317.81l1.75 1.75l-1.75 1.75l-1.75 -1.75zM176.41 273.34l1.75 1.75l-1.75 1.75l-1.75 -1.75zM81.12 342.04l1.75 1.75l-1.75 1.75l-1.75 -1.75zM110.94 319.51l1.75 1.75l-1.75 1.75l-1.75 -1.75zM154.15 293.42l1.75 1.75l-1.75 1.75l-1.75 -1.75zM68.28 347.84l1.75 1.75l-1.75 1.75l-1.75 -1.75zM132.57 306.08l1.75 1.75l-1.75 1.75l-1.75 -1.75zM98.71 329.09l1.75 1.75l-1.75 1.75l-1.75 -1.75zM210.31 253.65l1.75 1.75l-1.75 1.75l-1.75 -1.75zM148.77 292.34l1.75 1.75l-1.75 1.75l-1.75 -1.75zM108.4 323.26l1.75 1.75l-1.75 1.75l-1.75 -1.75zM84.1 340.41l1.75 1.75l-1.75 1.75l-1.75 -1.75zM203.34 255.22l1.75 1.75l-1.75 1.75l-1.75 -1.75zM208.21 254.88l1.75 1.75l-1.75 1.75l-1.75 -1.75zM182.92 275.4l1.75 1.75l-1.75 1.75l-1.75 -1.75zM111.51 321.3l1.75 1.75l-1.75 1.75l-1.75 -1.75zM165.2 287.36l1.75 1.75l-1.75 1.75l-1.75 -1.75zM107.02 324.75l1.75 1.75l-1.75 1.75l-1.75 -1.75zM211.21 256.09l1.75 1.75l-1.75 1.75l-1.75 -1.75zM147.54 293.12l1.75 1.75l-1.75 1.75l-1.75 -1.75zM141.21 299.31l1.75 1.75l-1.75 1.75l-1.75 -1.75zM174.78 279.96l1.75 1.75l-1.75 1.75l-1.75 -1.75zM152.07 290.64l1.75 1.75l-1.75 1.75l-1.75 -1.75zM163.94 286.63l1.75 1.75l-1.75 1.75l-1.75 -1.75zM94.07 334l1.75 1.75l-1.75 1.75l-1.75 -1.75zM165.39 281.14l1.75 1.75l-1.75 1.75l-1.75 -1.75zM206.79 253.35l1.75 1.75l-1.75 1.75l-1.75 -1.75zM116.9 318.09l1.75 1.75l-1.75 1.75l-1.75 -1.75zM156.72 290.71l1.75 1.75l-1.75 1.75l-1.75 -1.75zM164.21 284.91l1.75 1.75l-1.75 1.75l-1.75 -1.75zM114.04 316.21l1.75 1.75l-1.75 1.75l-1.75 -1.75zM77.52 343.73l1.75 1.75l-1.75 1.75l-1.75 -1.75zM180.23 275.11l1.75 1.75l-1.75 1.75l-1.75 -1.75zM178.01 274.84l1.75 1.75l-1.75 1.75l-1.75 -1.75zM107.06 322.28l1.75 1.75l-1.75 1.75l-1.75 -1.75zM197.91 258.33l1.75 1.75l-1.75 1.75l-1.75 -1.75zM142.83 297.38l1.75 1.75l-1.75 1.75l-1.75 -1.75zM182.39 271.87l1.75 1.75l-1.75 1.75l-1.75 -1.75zM117.1 315.74l1.75 1.75l-1.75 1.75l-1.75 -1.75zM148.34 298.01l1.75 1.75l-1.75 1.75l-1.75 -1.75zM120.09 316.9l1.75 1.75l-1.75 1.75l-1.75 -1.75zM84.04 336.95l1.75 1.75l-1.75 1.75l-1.75 -1.75zM82.17 337.32l1.75 1.75l-1.75 1.75l-1.75 -1.75zM183.9 274.47l1.75 1.75l-1.75 1.75l-1.75 -1.75zM94.93 329.16l1.75 1.75l-1.75 1.75l-1.75 -1.75zM129.64 309.95l1.75 1.75l-1.75 1.75l-1.75 -1.75zM189.41 271.1l1.75 1.75l-1.75 1.75l-1.75 -1.75zM155.89 287.76l1.75 1.75l-1.75 1.75l-1.75 -1.75zM126.91 307.66l1.75 1.75l-1.75 1.75l-1.75 -1.75zM146.26 297.71l1.75 1.75l-1.75 1.75l-1.75 -1.75zM97.51 327.8l1.75 1.75l-1.75 1.75l-1.75 -1.75zM184.3 267.46l1.75 1.75l-1.75 1.75l-1.75 -1.75zM187.52 273.72l1.75 1.75l-1.75 1.75l-1.75 -1.75zM209.41 254.17l1.75 1.75l-1.75 1.75l-1.75 -1.75zM150 295.36l1.75 1.75l-1.75 1.75l-1.75 -1.75zM162.14 290.85l1.75 1.75l-1.75 1.75l-1.75 -1.75zM170.07 279.58l1.75 1.75l-1.75 1.75l-1.75 -1.75zM196.04 264.09l1.75 1.75l-1.75 1.75l-1.75 -1.75zM157.3 291.8l1.75 1.75l-1.75 1.75l-1.75 -1.75zM67.61 350.47l1.75 1.75l-1.75 1.75l-1.75 -1.75zM166.38 283.78l1.75 1.75l-1.75 1.75l-1.75 -1.75zM145.67 297.22l1.75 1.75l-1.75 1.75l-1.75 -1.75zM96.22 330.39l1.75 1.75l-1.75 1.75l-1.75 -1.75zM72.8 345.69l1.75 1.75l-1.75 1.75l-1.75 -1.75zM163.98 284.94l1.75 1.75l-1.75 1.75l-1.75 -1.75zM152.01 297.2l1.75 1.75l-1.75 1.75l-1.75 -1.75zM200.83 257.31l1.75 1.75l-1.75 1.75l-1.75 -1.75zM185.91 272.15l1.75 1.75l-1.75 1.75l-1.75 -1.75zM74.83 343.6l1.75 1.75l-1.75 1.75l-1.75 -1.75zM102.2 323.55l1.75 1.75l-1.75 1.75l-1.75 -1.75zM147.95 299.57l1.75 1.75l-1.75 1.75l-1.75 -1.75zM115.64 319.95l1.75 1.75l-1.75 1.75l-1.75 -1.75zM171.28 277.27l1.75 1.75l-1.75 1.75l-1.75 -1.75zM195.78 265.45l1.75 1.75l-1.75 1.75l-1.75 -1.75zM206.06 259.91l1.75 1.75l-1.75 1.75l-1.75 -1.75zM178.02 274.68l1.75 1.75l-1.75 1.75l-1.75 -1.75zM188.05 273.78l1.75 1.75l-1.75 1.75l-1.75 -1.75zM196.25 263.47l1.75 1.75l-1.75 1.75l-1.75 -1.75zM180.59 274.32l1.75 1.75l-1.75 1.75l-1.75 -1.75zM83.59 335.97l1.75 1.75l-1.75 1.75l-1.75 -1.75zM78.92 340l1.75 1.75l-1.75 1.75l-1.75 -1.75zM91.33 333.42l1.75 1.75l-1.75 1.75l-1.75 -1.75zM171.97 280.5l1.75 1.75l-1.75 1.75l-1.75 -1.75zM130.46 308.71l1.75 1.75l-1.75 1.75l-1.75 -1.75zM112.87 318.96l1.75 1.75l-1.75 1.75l-1.75 -1.75zM180.63 273.5l1.75 1.75l-1.75 1.75l-1.75 -1.75zM94.29 333.91l1.75 1.75l-1.75 1.75l-1.75 -1.75zM175.02 276.9l1.75 1.75l-1.75 1.75l-1.75 -1.75zM122.8 312.86l1.75 1.75l-1.75 1.75l-1.75 -1.75zM156.57 287.96l1.75 1.75l-1.75 1.75l-1.75 -1.75zM67.65 347.62l1.75 1.75l-1.75 1.75l-1.75 -1.75zM184.53 268.4l1.75 1.75l-1.75 1.75l-1.75 -1.75zM136.13 301.47l1.75 1.75l-1.75 1.75l-1.75 -1.75zM98.59 326.58l1.75 1.75l-1.75 1.75l-1.75 -1.75zM127.71 306.94l1.75 1.75l-1.75 1.75l-1.75 -1.75zM71.37 344.62l1.75 1.75l-1.75 1.75l-1.75 -1.75zM92.44 332.65l1.75 1.75l-1.75 1.75l-1.75 -1.75zM76.19 340.88l1.75 1.75l-1.75 1.75l-1.75 -1.75zM134.34 304.31l1.75 1.75l-1.75 1.75l-1.75 -1.75zM172.59 275.61l1.75 1.75l-1.75 1.75l-1.75 -1.75zM127.64 308.68l1.75 1.75l-1.75 1.75l-1.75 -1.75zM71.24 349.11l1.75 1.75l-1.75 1.75l-1.75 -1.75zM100.03 325.13l1.75 1.75l-1.75 1.75l-1.75 -1.75zM138.32 299.76l1.75 1.75l-1.75 1.75l-1.75 -1.75zM160.46 286.42l1.75 1.75l-1.75 1.75l-1.75 -1.75zM85.81 334.51l1.75 1.75l-1.75 1.75l-1.75 -1.75zM176.22 275.24l1.75 1.75l-1.75 1.75l-1.75 -1.75zM185.23 271.06l1.75 1.75l-1.75 1.75l-1.75 -1.75zM206.95 254.93l1.75 1.75l-1.75 1.75l-1.75 -1.75zM104.68 323.09l1.75 1.75l-1.75 1.75l-1.75 -1.75zM189.25 270.02l1.75 1.75l-1.75 1.75l-1.75 -1.75zM118.87 312.37l1.75 1.75l-1.75 1.75l-1.75 -1.75zM169.44 286.1l1.75 1.75l-1.75 1.75l-1.75 -1.75zM155.94 286.5l1.75 1.75l-1.75 1.75l-1.75 -1.75zM71.79 344.23l1.75 1.75l-1.75 1.75l-1.75 -1.75zM92.76 329.71l1.75 1.75l-1.75 1.75l-1.75 -1.75zM75.33 344.83l1.75 1.75l-1.75 1.75l-1.75 -1.75zM202.07 257.16l1.75 1.75l-1.75 1.75l-1.75 -1.75zM213.08 252.74l1.75 1.75l-1.75 1.75l-1.75 -1.75zM187.59 273.94l1.75 1.75l-1.75 1.75l-1.75 -1.75zM208.03 251.38l1.75 1.75l-1.75 1.75l-1.75 -1.75zM112.88 319.93l1.75 1.75l-1.75 1.75l-1.75 -1.75zM208.99 251.29l1.75 1.75l-1.75 1.75l-1.75 -1.75zM111.19 322.68l1.75 1.75l-1.75 1.75l-1.75 -1.75zM84.42 337.38l1.75 1.75l-1.75 1.75l-1.75 -1.75zM117.29 317.55l1.75 1.75l-1.75 1.75l-1.75 -1.75zM206.3 254.04l1.75 1.75l-1.75 1.75l-1.75 -1.75zM178.03 278.36l1.75 1.75l-1.75 1.75l-1.75 -1.75zM192.39 267.2l1.75 1.75l-1.75 1.75l-1.75 -1.75zM205.54 256.53l1.75 1.75l-1.75 1.75l-1.75 -1.75zM129.35 306.29l1.75 1.75l-1.75 1.75l-1.75 -1.75zM183.97 272.04l1.75 1.75l-1.75 1.75l-1.75 -1.75zM107.6 320.5l1.75 1.75l-1.75 1.75l-1.75 -1.75zM175.16 279.03l1.75 1.75l-1.75 1.75l-1.75 -1.75zM173.67 277.99l1.75 1.75l-1.75 1.75l-1.75 -1.75zM140.2 298.41l1.75 1.75l-1.75 1.75l-1.75 -1.75zM173.68 274.61l1.75 1.75l-1.75 1.75l-1.75 -1.75zM137.17 305.17l1.75 1.75l-1.75 1.75l-1.75 -1.75zM168.68 278.68l1.75 1.75l-1.75 1.75l-1.75 -1.75zM102.77 328.09l1.75 1.75l-1.75 1.75l-1.75 -1.75zM163.45 289.14l1.75 1.75l-1.75 1.75l-1.75 -1.75zM197.87 262.53l1.75 1.75l-1.75 1.75l-1.75 -1.75zM201.56 263.02l1.75 1.75l-1.75 1.75l-1.75 -1.75zM117.22 315.42l1.75 1.75l-1.75 1.75l-1.75 -1.75zM201.8 258.64l1.75 1.75l-1.75 1.75l-1.75 -1.75zM223.89 243.01l1.75 1.75l-1.75 1.75l-1.75 -1.75zM214.22 249.24l1.75 1.75l-1.75 1.75l-1.75 -1.75zM202.02 259.75l1.75 1.75l-1.75 1.75l-1.75 -1.75zM206.02 254.19l1.75 1.75l-1.75 1.75l-1.75 -1.75zM203.82 258.57l1.75 1.75l-1.75 1.75l-1.75 -1.75zM214.64 248.48l1.75 1.75l-1.75 1.75l-1.75 -1.75zM205.75 258.95l1.75 1.75l-1.75 1.75l-1.75 -1.75zM205.5 257.08l1.75 1.75l-1.75 1.75l-1.75 -1.75zM210.49 254.98l1.75 1.75l-1.75 1.75l-1.75 -1.75zM215.11 252.06l1.75 1.75l-1.75 1.75l-1.75 -1.75zM213.38 250.17l1.75 1.75l-1.75 1.75l-1.75 -1.75zM204.44 255.35l1.75 1.75l-1.75 1.75l-1.75 -1.75zM220.64 245.14l1.75 1.75l-1.75 1.75l-1.75 -1.75zM200.6 262.25l1.75 1.75l-1.75 1.75l-1.75 -1.75zM101.52 333.7l1.75 1.75l-1.75 1.75l-1.75 -1.75zM82 344.57l1.75 1.75l-1.75 1.75l-1.75 -1.75zM105.56 330.89l1.75 1.75l-1.75 1.75l-1.75 -1.75zM173.1 287.17l1.75 1.75l-1.75 1.75l-1.75 -1.75zM198.21 272.16l1.75 1.75l-1.75 1.75l-1.75 -1.75zM126.77 316.54l1.75 1.75l-1.75 1.75l-1.75 -1.75zM143.89 303.68l1.75 1.75l-1.75 1.75l-1.75 -1.75zM210.94 262.87l1.75 1.75l-1.75 1.75l-1.75 -1.75zM207.4 263.45l1.75 1.75l-1.75 1.75l-1.75 -1.75zM159.99 294.81l1.75 1.75l-1.75 1.75l-1.75 -1.75zM192.47 272.45l1.75 1.75l-1.75 1.75l-1.75 -1.75zM126.79 316.07l1.75 1.75l-1.75 1.75l-1.75 -1.75zM79.55 346.44l1.75 1.75l-1.75 1.75l-1.75 -1.75zM193.72 273.11l1.75 1.75l-1.75 1.75l-1.75 -1.75zM178.78 283.41l1.75 1.75l-1.75 1.75l-1.75 -1.75zM104.09 330.05l1.75 1.75l-1.75 1.75l-1.75 -1.75zM238.52 244.13l1.75 1.75l-1.75 1.75l-1.75 -1.75zM141.35 305.2l1.75 1.75l-1.75 1.75l-1.75 -1.75zM104.73 328.95l1.75 1.75l-1.75 1.75l-1.75 -1.75zM227.37 252.98l1.75 1.75l-1.75 1.75l-1.75 -1.75zM217.7 260.27l1.75 1.75l-1.75 1.75l-1.75 -1.75zM172.54 288.72l1.75 1.75l-1.75 1.75l-1.75 -1.75zM159.39 295l1.75 1.75l-1.75 1.75l-1.75 -1.75zM230.32 251.89l1.75 1.75l-1.75 1.75l-1.75 -1.75zM230.58 249.86l1.75 1.75l-1.75 1.75l-1.75 -1.75zM200.28 268.85l1.75 1.75l-1.75 1.75l-1.75 -1.75zM238.79 246.59l1.75 1.75l-1.75 1.75l-1.75 -1.75zM117.48 323.71l1.75 1.75l-1.75 1.75l-1.75 -1.75zM99 332.36l1.75 1.75l-1.75 1.75l-1.75 -1.75zM191.5 273.99l1.75 1.75l-1.75 1.75l-1.75 -1.75zM156.6 297.68l1.75 1.75l-1.75 1.75l-1.75 -1.75zM74.23 350.52l1.75 1.75l-1.75 1.75l-1.75 -1.75zM114.72 323.57l1.75 1.75l-1.75 1.75l-1.75 -1.75zM126.55 317.21l1.75 1.75l-1.75 1.75l-1.75 -1.75zM195.7 271.27l1.75 1.75l-1.75 1.75l-1.75 -1.75zM85.03 342.04l1.75 1.75l-1.75 1.75l-1.75 -1.75zM137.96 307.35l1.75 1.75l-1.75 1.75l-1.75 -1.75zM93.6 338.25l1.75 1.75l-1.75 1.75l-1.75 -1.75zM187.72 279.26l1.75 1.75l-1.75 1.75l-1.75 -1.75zM235.75 248.32l1.75 1.75l-1.75 1.75l-1.75 -1.75zM131.33 311.92l1.75 1.75l-1.75 1.75l-1.75 -1.75zM120.9 319.74l1.75 1.75l-1.75 1.75l-1.75 -1.75zM157.71 296.57l1.75 1.75l-1.75 1.75l-1.75 -1.75zM129.12 316l1.75 1.75l-1.75 1.75l-1.75 -1.75zM116.3 322.68l1.75 1.75l-1.75 1.75l-1.75 -1.75zM219.78 258.16l1.75 1.75l-1.75 1.75l-1.75 -1.75zM118.4 320.5l1.75 1.75l-1.75 1.75l-1.75 -1.75zM206 263.5l1.75 1.75l-1.75 1.75l-1.75 -1.75zM89.86 339.79l1.75 1.75l-1.75 1.75l-1.75 -1.75zM159.41 293.97l1.75 1.75l-1.75 1.75l-1.75 -1.75zM75.89 347.54l1.75 1.75l-1.75 1.75l-1.75 -1.75zM199.69 269.49l1.75 1.75l-1.75 1.75l-1.75 -1.75zM235.69 247.95l1.75 1.75l-1.75 1.75l-1.75 -1.75zM235.68 244.6l1.75 1.75l-1.75 1.75l-1.75 -1.75zM99.08 332.01l1.75 1.75l-1.75 1.75l-1.75 -1.75zM141.62 306.03l1.75 1.75l-1.75 1.75l-1.75 -1.75zM76.07 348.64l1.75 1.75l-1.75 1.75l-1.75 -1.75zM83.39 343.13l1.75 1.75l-1.75 1.75l-1.75 -1.75zM109.77 328.11l1.75 1.75l-1.75 1.75l-1.75 -1.75zM139.18 307.28l1.75 1.75l-1.75 1.75l-1.75 -1.75zM74.82 349.02l1.75 1.75l-1.75 1.75l-1.75 -1.75zM175.18 285.99l1.75 1.75l-1.75 1.75l-1.75 -1.75zM224.21 255.35l1.75 1.75l-1.75 1.75l-1.75 -1.75zM109.8 325.6l1.75 1.75l-1.75 1.75l-1.75 -1.75zM197.68 272.15l1.75 1.75l-1.75 1.75l-1.75 -1.75zM154.77 299.61l1.75 1.75l-1.75 1.75l-1.75 -1.75zM162.17 292.67l1.75 1.75l-1.75 1.75l-1.75 -1.75zM96.27 333.82l1.75 1.75l-1.75 1.75l-1.75 -1.75zM177.86 285.2l1.75 1.75l-1.75 1.75l-1.75 -1.75zM223.11 254.55l1.75 1.75l-1.75 1.75l-1.75 -1.75zM181.71 282.88l1.75 1.75l-1.75 1.75l-1.75 -1.75zM207.26 265.25l1.75 1.75l-1.75 1.75l-1.75 -1.75zM138.53 308.71l1.75 1.75l-1.75 1.75l-1.75 -1.75zM96.63 334.2l1.75 1.75l-1.75 1.75l-1.75 -1.75zM184.86 281.15l1.75 1.75l-1.75 1.75l-1.75 -1.75zM161.35 293.72l1.75 1.75l-1.75 1.75l-1.75 -1.75zM127.78 315.32l1.75 1.75l-1.75 1.75l-1.75 -1.75zM205.36 265.81l1.75 1.75l-1.75 1.75l-1.75 -1.75zM232.24 247.33l1.75 1.75l-1.75 1.75l-1.75 -1.75zM121.41 319.64l1.75 1.75l-1.75 1.75l-1.75 -1.75zM138.09 310.29l1.75 1.75l-1.75 1.75l-1.75 -1.75zM209.6 265.18l1.75 1.75l-1.75 1.75l-1.75 -1.75zM172.59 284.98l1.75 1.75l-1.75 1.75l-1.75 -1.75zM166.07 291.28l1.75 1.75l-1.75 1.75l-1.75 -1.75zM151.12 299.73l1.75 1.75l-1.75 1.75l-1.75 -1.75zM189.27 278.01l1.75 1.75l-1.75 1.75l-1.75 -1.75zM84.87 343.47l1.75 1.75l-1.75 1.75l-1.75 -1.75zM131.11 313.43l1.75 1.75l-1.75 1.75l-1.75 -1.75zM221.31 257.87l1.75 1.75l-1.75 1.75l-1.75 -1.75zM177.94 282.24l1.75 1.75l-1.75 1.75l-1.75 -1.75zM225.6 248.72l1.75 1.75l-1.75 1.75l-1.75 -1.75zM134.78 310.71l1.75 1.75l-1.75 1.75l-1.75 -1.75zM123.44 316.53l1.75 1.75l-1.75 1.75l-1.75 -1.75zM230.54 247.74l1.75 1.75l-1.75 1.75l-1.75 -1.75zM123.64 316.77l1.75 1.75l-1.75 1.75l-1.75 -1.75zM117.65 319.94l1.75 1.75l-1.75 1.75l-1.75 -1.75zM112.29 326.03l1.75 1.75l-1.75 1.75l-1.75 -1.75zM83.4 342.89l1.75 1.75l-1.75 1.75l-1.75 -1.75zM103.8 328.94l1.75 1.75l-1.75 1.75l-1.75 -1.75zM158.94 294.48l1.75 1.75l-1.75 1.75l-1.75 -1.75zM211.67 259.28l1.75 1.75l-1.75 1.75l-1.75 -1.75zM208.21 259.69l1.75 1.75l-1.75 1.75l-1.75 -1.75zM117.69 322.4l1.75 1.75l-1.75 1.75l-1.75 -1.75zM81.73 344.1l1.75 1.75l-1.75 1.75l-1.75 -1.75zM151.6 297.9l1.75 1.75l-1.75 1.75l-1.75 -1.75zM162.3 290.17l1.75 1.75l-1.75 1.75l-1.75 -1.75zM109.87 327.56l1.75 1.75l-1.75 1.75l-1.75 -1.75zM94.37 337.66l1.75 1.75l-1.75 1.75l-1.75 -1.75zM100.07 334.15l1.75 1.75l-1.75 1.75l-1.75 -1.75zM184.01 277.62l1.75 1.75l-1.75 1.75l-1.75 -1.75zM94.03 335.33l1.75 1.75l-1.75 1.75l-1.75 -1.75zM198.35 266.72l1.75 1.75l-1.75 1.75l-1.75 -1.75zM102.04 332.34l1.75 1.75l-1.75 1.75l-1.75 -1.75zM217.84 253.45l1.75 1.75l-1.75 1.75l-1.75 -1.75zM232.37 245.3l1.75 1.75l-1.75 1.75l-1.75 -1.75zM134.62 308.65l1.75 1.75l-1.75 1.75l-1.75 -1.75zM135.89 310.45l1.75 1.75l-1.75 1.75l-1.75 -1.75zM117.45 320.07l1.75 1.75l-1.75 1.75l-1.75 -1.75zM94.55 335.2l1.75 1.75l-1.75 1.75l-1.75 -1.75zM129.56 314.42l1.75 1.75l-1.75 1.75l-1.75 -1.75zM83.01 343.03l1.75 1.75l-1.75 1.75l-1.75 -1.75zM228.74 249.09l1.75 1.75l-1.75 1.75l-1.75 -1.75zM235.61 242.3l1.75 1.75l-1.75 1.75l-1.75 -1.75zM129.89 314.31l1.75 1.75l-1.75 1.75l-1.75 -1.75zM151.98 298.96l1.75 1.75l-1.75 1.75l-1.75 -1.75zM122.94 316.11l1.75 1.75l-1.75 1.75l-1.75 -1.75zM128.37 314.71l1.75 1.75l-1.75 1.75l-1.75 -1.75zM202.15 265.39l1.75 1.75l-1.75 1.75l-1.75 -1.75zM148.43 300.81l1.75 1.75l-1.75 1.75l-1.75 -1.75zM144.75 303.24l1.75 1.75l-1.75 1.75l-1.75 -1.75zM210.77 258.58l1.75 1.75l-1.75 1.75l-1.75 -1.75zM170.44 287.44l1.75 1.75l-1.75 1.75l-1.75 -1.75zM213.37 256.8l1.75 1.75l-1.75 1.75l-1.75 -1.75zM232.82 245.92l1.75 1.75l-1.75 1.75l-1.75 -1.75zM98.38 333.09l1.75 1.75l-1.75 1.75l-1.75 -1.75zM104.2 328.6l1.75 1.75l-1.75 1.75l-1.75 -1.75zM235.34 242.96l1.75 1.75l-1.75 1.75l-1.75 -1.75zM217.48 253.88l1.75 1.75l-1.75 1.75l-1.75 -1.75zM72.35 352.11l1.75 1.75l-1.75 1.75l-1.75 -1.75zM204.19 265.31l1.75 1.75l-1.75 1.75l-1.75 -1.75zM185.84 276.04l1.75 1.75l-1.75 1.75l-1.75 -1.75zM199.46 265.74l1.75 1.75l-1.75 1.75l-1.75 -1.75zM161.32 292l1.75 1.75l-1.75 1.75l-1.75 -1.75zM94.73 336.5l1.75 1.75l-1.75 1.75l-1.75 -1.75zM124.61 316.46l1.75 1.75l-1.75 1.75l-1.75 -1.75zM133.12 310.27l1.75 1.75l-1.75 1.75l-1.75 -1.75zM130.58 312.8l1.75 1.75l-1.75 1.75l-1.75 -1.75zM235.7 244.3l1.75 1.75l-1.75 1.75l-1.75 -1.75zM215.71 257.22l1.75 1.75l-1.75 1.75l-1.75 -1.75zM118.47 321.94l1.75 1.75l-1.75 1.75l-1.75 -1.75z" fill="none" stroke="#b2b2b2" stroke-width="0.55"/>
<line x1="39" y1="374.8" x2="272.75" y2="220.25" stroke="#2c2c2c" stroke-width="1" stroke-dasharray="3.5 3.5"/>
<line x1="67.25" y1="353.6" x2="239.25" y2="243.4" stroke="#ff1414" stroke-width="1.25"/>
<line x1="39" y1="374.8" x2="272.75" y2="374.8" stroke="#111" stroke-width="1.2" stroke-linecap="square"/>
<line x1="39" y1="220.25" x2="272.75" y2="220.25" stroke="#111" stroke-width="1.2" stroke-linecap="square"/>
<line x1="39" y1="220.25" x2="39" y2="374.8" stroke="#111" stroke-width="1.2" stroke-linecap="square"/>
<line x1="272.75" y1="220.25" x2="272.75" y2="374.8" stroke="#111" stroke-width="1.2" stroke-linecap="square"/>
<path d="M39 374.8v1.8M39 220.25v-1.8M39 374.8h-1.8M272.75 374.8h1.8M60.25 374.8v3.2M60.25 220.25v-3.2M39 360.75h-3.2M272.75 360.75h3.2M81.5 374.8v1.8M81.5 220.25v-1.8M39 346.7h-1.8M272.75 346.7h1.8M102.75 374.8v3.2M102.75 220.25v-3.2M39 332.65h-3.2M272.75 332.65h3.2M124 374.8v1.8M124 220.25v-1.8M39 318.6h-1.8M272.75 318.6h1.8M145.25 374.8v3.2M145.25 220.25v-3.2M39 304.55h-3.2M272.75 304.55h3.2M166.5 374.8v1.8M166.5 220.25v-1.8M39 290.5h-1.8M272.75 290.5h1.8M187.75 374.8v3.2M187.75 220.25v-3.2M39 276.45h-3.2M272.75 276.45h3.2M209 374.8v1.8M209 220.25v-1.8M39 262.4h-1.8M272.75 262.4h1.8M230.25 374.8v3.2M230.25 220.25v-3.2M39 248.35h-3.2M272.75 248.35h3.2M251.5 374.8v1.8M251.5 220.25v-1.8M39 234.3h-1.8M272.75 234.3h1.8M272.75 374.8v3.2M272.75 220.25v-3.2M39 220.25h-3.2M272.75 220.25h3.2" stroke="#555" stroke-width="0.95" fill="none"/>
<text x="60.25" y="390.2" text-anchor="middle" class="tl">0.1</text>
<text x="33.7" y="364.65" text-anchor="end" class="tl">0.1</text>
<text x="102.75" y="390.2" text-anchor="middle" class="tl">0.2</text>
<text x="33.7" y="336.55" text-anchor="end" class="tl">0.2</text>
<text x="145.25" y="390.2" text-anchor="middle" class="tl">0.3</text>
<text x="33.7" y="308.45" text-anchor="end" class="tl">0.3</text>
<text x="187.75" y="390.2" text-anchor="middle" class="tl">0.4</text>
<text x="33.7" y="280.35" text-anchor="end" class="tl">0.4</text>
<text x="230.25" y="390.2" text-anchor="middle" class="tl">0.5</text>
<text x="33.7" y="252.25" text-anchor="end" class="tl">0.5</text>
<text x="272.75" y="390.2" text-anchor="middle" class="tl">0.6</text>
<text x="33.7" y="224.15" text-anchor="end" class="tl">0.6</text>
<text transform="translate(42.45 408) scale(1.0537 1)" class="at">DgN<tspan class="sub" dy="4">p</tspan><tspan dy="-4"> (Nosratieh et al. 2015) (mGy/mGy)</tspan></text>
<text transform="translate(9.9 380.8) rotate(-90)" x="0" y="0" class="at" textLength="167.6" lengthAdjust="spacingAndGlyphs">DgN<tspan class="sub" dy="4">p</tspan><tspan dy="-4"> (This work) (mGy/mGy)</tspan></text>
<text transform="translate(1.6 408.9) scale(0.93 1)" class="pl">c<tspan dx="2.2">)</tspan></text>
<rect x="44.8" y="230.8" width="158.1" height="16.5" fill="#000"/>
<rect x="42.5" y="228.5" width="158.1" height="16.5" fill="#fff" stroke="#c8c8c8" stroke-width="0.8"/>
<text transform="translate(47.68 241.25) scale(1.0676 1)" class="hv">HVL range 0.5 - 0.6 mmAl</text>
<rect x="176.6" y="318.75" width="88.8" height="48.45" fill="#fff" stroke="#cfcfcf" stroke-width="0.8"/>
<text transform="translate(180.6 329) scale(1.0115 1)" class="ft">Fit curve: Y = a*X + b</text>
<text transform="translate(181.3 339.4) scale(0.9948 1)" class="ft fb">a&#160; = 0.9698 &#177; 0.0039</text>
<text transform="translate(180.6 350.6) scale(1.0145 1)" class="ft fb">b&#160; = 0.0134 &#177; 0.0012</text>
<text transform="translate(180.6 362.5) scale(1.0200 1)" class="ft">R<tspan class="sup" dy="-3.9">2</tspan><tspan dy="3.9">= 0.9852</tspan></text>
<path d="M434.56 302.71l1.75 1.75l-1.75 1.75l-1.75 -1.75zM459.35 287.47l1.75 1.75l-1.75 1.75l-1.75 -1.75zM408.3 320.11l1.75 1.75l-1.75 1.75l-1.75 -1.75zM540.19 239.73l1.75 1.75l-1.75 1.75l-1.75 -1.75zM516.52 252.16l1.75 1.75l-1.75 1.75l-1.75 -1.75zM481.13 274.38l1.75 1.75l-1.75 1.75l-1.75 -1.75zM424.75 308.83l1.75 1.75l-1.75 1.75l-1.75 -1.75zM431.21 307.77l1.75 1.75l-1.75 1.75l-1.75 -1.75zM526.4 248.31l1.75 1.75l-1.75 1.75l-1.75 -1.75zM521.99 248.65l1.75 1.75l-1.75 1.75l-1.75 -1.75zM446 297.51l1.75 1.75l-1.75 1.75l-1.75 -1.75zM511.37 257.81l1.75 1.75l-1.75 1.75l-1.75 -1.75zM534.32 240.56l1.75 1.75l-1.75 1.75l-1.75 -1.75zM491.85 269.22l1.75 1.75l-1.75 1.75l-1.75 -1.75zM476.37 276.97l1.75 1.75l-1.75 1.75l-1.75 -1.75zM471.36 279.76l1.75 1.75l-1.75 1.75l-1.75 -1.75zM542.77 238.39l1.75 1.75l-1.75 1.75l-1.75 -1.75zM482.83 273.41l1.75 1.75l-1.75 1.75l-1.75 -1.75zM538.78 239.7l1.75 1.75l-1.75 1.75l-1.75 -1.75zM534.67 243.34l1.75 1.75l-1.75 1.75l-1.75 -1.75zM476.75 277.62l1.75 1.75l-1.75 1.75l-1.75 -1.75zM490.77 268.97l1.75 1.75l-1.75 1.75l-1.75 -1.75zM422.99 310.64l1.75 1.75l-1.75 1.75l-1.75 -1.75zM523.87 246.89l1.75 1.75l-1.75 1.75l-1.75 -1.75zM405.18 322.84l1.75 1.75l-1.75 1.75l-1.75 -1.75zM441.44 300l1.75 1.75l-1.75 1.75l-1.75 -1.75zM471 280.93l1.75 1.75l-1.75 1.75l-1.75 -1.75zM552.48 229.69l1.75 1.75l-1.75 1.75l-1.75 -1.75zM461.94 286.04l1.75 1.75l-1.75 1.75l-1.75 -1.75zM496 265.13l1.75 1.75l-1.75 1.75l-1.75 -1.75zM453.12 293.53l1.75 1.75l-1.75 1.75l-1.75 -1.75zM447.67 296.22l1.75 1.75l-1.75 1.75l-1.75 -1.75zM538.08 238.28l1.75 1.75l-1.75 1.75l-1.75 -1.75zM407.54 319.97l1.75 1.75l-1.75 1.75l-1.75 -1.75zM516.52 253.69l1.75 1.75l-1.75 1.75l-1.75 -1.75zM434.78 303.4l1.75 1.75l-1.75 1.75l-1.75 -1.75zM425.5 309.63l1.75 1.75l-1.75 1.75l-1.75 -1.75zM404.63 323.43l1.75 1.75l-1.75 1.75l-1.75 -1.75zM536.78 242.46l1.75 1.75l-1.75 1.75l-1.75 -1.75zM511.83 257.93l1.75 1.75l-1.75 1.75l-1.75 -1.75zM400.82 324.36l1.75 1.75l-1.75 1.75l-1.75 -1.75zM547.63 235.02l1.75 1.75l-1.75 1.75l-1.75 -1.75zM461.58 289.01l1.75 1.75l-1.75 1.75l-1.75 -1.75zM494.12 268.37l1.75 1.75l-1.75 1.75l-1.75 -1.75zM443.45 297.5l1.75 1.75l-1.75 1.75l-1.75 -1.75zM466.8 282.77l1.75 1.75l-1.75 1.75l-1.75 -1.75zM457.12 291.84l1.75 1.75l-1.75 1.75l-1.75 -1.75zM449.32 293.18l1.75 1.75l-1.75 1.75l-1.75 -1.75zM404.94 321.38l1.75 1.75l-1.75 1.75l-1.75 -1.75zM519.4 250.92l1.75 1.75l-1.75 1.75l-1.75 -1.75zM442.97 297.45l1.75 1.75l-1.75 1.75l-1.75 -1.75zM550.07 232.1l1.75 1.75l-1.75 1.75l-1.75 -1.75zM430.21 305.26l1.75 1.75l-1.75 1.75l-1.75 -1.75zM406.56 320.37l1.75 1.75l-1.75 1.75l-1.75 -1.75zM502.84 260.4l1.75 1.75l-1.75 1.75l-1.75 -1.75zM404.33 322.89l1.75 1.75l-1.75 1.75l-1.75 -1.75zM436.58 304.7l1.75 1.75l-1.75 1.75l-1.75 -1.75zM416.94 315.19l1.75 1.75l-1.75 1.75l-1.75 -1.75zM517.86 252.06l1.75 1.75l-1.75 1.75l-1.75 -1.75zM550.99 231.75l1.75 1.75l-1.75 1.75l-1.75 -1.75zM435.46 303.26l1.75 1.75l-1.75 1.75l-1.75 -1.75zM403.71 323.03l1.75 1.75l-1.75 1.75l-1.75 -1.75zM436.51 304.35l1.75 1.75l-1.75 1.75l-1.75 -1.75zM526.73 246.9l1.75 1.75l-1.75 1.75l-1.75 -1.75zM402.9 322.94l1.75 1.75l-1.75 1.75l-1.75 -1.75zM435.55 302.48l1.75 1.75l-1.75 1.75l-1.75 -1.75zM433.85 305.92l1.75 1.75l-1.75 1.75l-1.75 -1.75zM419.95 311.62l1.75 1.75l-1.75 1.75l-1.75 -1.75zM541.75 237.83l1.75 1.75l-1.75 1.75l-1.75 -1.75zM551.44 231.17l1.75 1.75l-1.75 1.75l-1.75 -1.75zM537.56 240.79l1.75 1.75l-1.75 1.75l-1.75 -1.75zM520.5 251.72l1.75 1.75l-1.75 1.75l-1.75 -1.75zM474.57 277.78l1.75 1.75l-1.75 1.75l-1.75 -1.75zM430.67 307.91l1.75 1.75l-1.75 1.75l-1.75 -1.75zM537.37 241.97l1.75 1.75l-1.75 1.75l-1.75 -1.75zM450.14 295.05l1.75 1.75l-1.75 1.75l-1.75 -1.75zM521.84 250.49l1.75 1.75l-1.75 1.75l-1.75 -1.75zM524.22 248.57l1.75 1.75l-1.75 1.75l-1.75 -1.75zM499.42 264.58l1.75 1.75l-1.75 1.75l-1.75 -1.75zM439.56 302.58l1.75 1.75l-1.75 1.75l-1.75 -1.75zM546.13 233.16l1.75 1.75l-1.75 1.75l-1.75 -1.75zM548.42 235.27l1.75 1.75l-1.75 1.75l-1.75 -1.75zM501.53 260.81l1.75 1.75l-1.75 1.75l-1.75 -1.75zM537.25 238.9l1.75 1.75l-1.75 1.75l-1.75 -1.75zM548.03 234.34l1.75 1.75l-1.75 1.75l-1.75 -1.75zM407.37 319.86l1.75 1.75l-1.75 1.75l-1.75 -1.75zM496.39 266.01l1.75 1.75l-1.75 1.75l-1.75 -1.75zM513.63 256.69l1.75 1.75l-1.75 1.75l-1.75 -1.75zM431.85 304.04l1.75 1.75l-1.75 1.75l-1.75 -1.75zM540.87 236.19l1.75 1.75l-1.75 1.75l-1.75 -1.75zM533.76 241.03l1.75 1.75l-1.75 1.75l-1.75 -1.75zM523.45 250.05l1.75 1.75l-1.75 1.75l-1.75 -1.75zM533.98 242.6l1.75 1.75l-1.75 1.75l-1.75 -1.75zM534.11 241.14l1.75 1.75l-1.75 1.75l-1.75 -1.75zM502.01 261.6l1.75 1.75l-1.75 1.75l-1.75 -1.75zM536.13 242.14l1.75 1.75l-1.75 1.75l-1.75 -1.75zM471.04 281.59l1.75 1.75l-1.75 1.75l-1.75 -1.75zM402.09 322.68l1.75 1.75l-1.75 1.75l-1.75 -1.75zM490.09 269.62l1.75 1.75l-1.75 1.75l-1.75 -1.75zM531.95 244.09l1.75 1.75l-1.75 1.75l-1.75 -1.75zM419.49 313.01l1.75 1.75l-1.75 1.75l-1.75 -1.75zM516.9 253.1l1.75 1.75l-1.75 1.75l-1.75 -1.75zM399.63 327.02l1.75 1.75l-1.75 1.75l-1.75 -1.75zM526.19 245.62l1.75 1.75l-1.75 1.75l-1.75 -1.75zM482.17 274.13l1.75 1.75l-1.75 1.75l-1.75 -1.75zM519.97 250.37l1.75 1.75l-1.75 1.75l-1.75 -1.75zM434.2 304.32l1.75 1.75l-1.75 1.75l-1.75 -1.75zM547.68 232.28l1.75 1.75l-1.75 1.75l-1.75 -1.75zM415.73 316.27l1.75 1.75l-1.75 1.75l-1.75 -1.75zM535.14 241.73l1.75 1.75l-1.75 1.75l-1.75 -1.75zM465.22 286.44l1.75 1.75l-1.75 1.75l-1.75 -1.75zM518.29 250.46l1.75 1.75l-1.75 1.75l-1.75 -1.75zM534.52 240.87l1.75 1.75l-1.75 1.75l-1.75 -1.75zM444.83 299l1.75 1.75l-1.75 1.75l-1.75 -1.75zM463.44 287.32l1.75 1.75l-1.75 1.75l-1.75 -1.75zM423.93 312.09l1.75 1.75l-1.75 1.75l-1.75 -1.75zM425.32 308.63l1.75 1.75l-1.75 1.75l-1.75 -1.75zM474.56 278.7l1.75 1.75l-1.75 1.75l-1.75 -1.75zM481.93 276.25l1.75 1.75l-1.75 1.75l-1.75 -1.75zM508.06 256.59l1.75 1.75l-1.75 1.75l-1.75 -1.75zM446.3 297.02l1.75 1.75l-1.75 1.75l-1.75 -1.75zM473.36 280.86l1.75 1.75l-1.75 1.75l-1.75 -1.75zM473.01 278.68l1.75 1.75l-1.75 1.75l-1.75 -1.75zM436.02 304.5l1.75 1.75l-1.75 1.75l-1.75 -1.75zM453.27 293.51l1.75 1.75l-1.75 1.75l-1.75 -1.75zM550.7 232.52l1.75 1.75l-1.75 1.75l-1.75 -1.75zM502.83 262.17l1.75 1.75l-1.75 1.75l-1.75 -1.75zM446.53 298.22l1.75 1.75l-1.75 1.75l-1.75 -1.75zM470.34 283.46l1.75 1.75l-1.75 1.75l-1.75 -1.75zM445.35 298.79l1.75 1.75l-1.75 1.75l-1.75 -1.75zM519.88 251.6l1.75 1.75l-1.75 1.75l-1.75 -1.75zM466.48 282.99l1.75 1.75l-1.75 1.75l-1.75 -1.75zM517.43 252.14l1.75 1.75l-1.75 1.75l-1.75 -1.75zM500.56 261.75l1.75 1.75l-1.75 1.75l-1.75 -1.75zM410.79 317.65l1.75 1.75l-1.75 1.75l-1.75 -1.75zM523.32 247.76l1.75 1.75l-1.75 1.75l-1.75 -1.75zM537.71 239.58l1.75 1.75l-1.75 1.75l-1.75 -1.75zM487.22 270.88l1.75 1.75l-1.75 1.75l-1.75 -1.75zM494.17 265.58l1.75 1.75l-1.75 1.75l-1.75 -1.75zM460.35 289.74l1.75 1.75l-1.75 1.75l-1.75 -1.75zM425.83 310.12l1.75 1.75l-1.75 1.75l-1.75 -1.75zM448.6 294.7l1.75 1.75l-1.75 1.75l-1.75 -1.75zM401.59 322.94l1.75 1.75l-1.75 1.75l-1.75 -1.75zM545.06 236.83l1.75 1.75l-1.75 1.75l-1.75 -1.75zM522.09 250.98l1.75 1.75l-1.75 1.75l-1.75 -1.75zM545.67 233.78l1.75 1.75l-1.75 1.75l-1.75 -1.75zM488.49 270.64l1.75 1.75l-1.75 1.75l-1.75 -1.75zM486.89 273.3l1.75 1.75l-1.75 1.75l-1.75 -1.75zM515.76 255.53l1.75 1.75l-1.75 1.75l-1.75 -1.75zM416.1 316.15l1.75 1.75l-1.75 1.75l-1.75 -1.75zM502.62 262.82l1.75 1.75l-1.75 1.75l-1.75 -1.75zM493.71 268.67l1.75 1.75l-1.75 1.75l-1.75 -1.75zM444.91 299.28l1.75 1.75l-1.75 1.75l-1.75 -1.75zM460.91 288.15l1.75 1.75l-1.75 1.75l-1.75 -1.75zM536.93 241.37l1.75 1.75l-1.75 1.75l-1.75 -1.75zM445.97 296.08l1.75 1.75l-1.75 1.75l-1.75 -1.75zM448.59 295.9l1.75 1.75l-1.75 1.75l-1.75 -1.75zM552.35 232.59l1.75 1.75l-1.75 1.75l-1.75 -1.75zM459.99 287.98l1.75 1.75l-1.75 1.75l-1.75 -1.75zM524.63 247.36l1.75 1.75l-1.75 1.75l-1.75 -1.75zM461.75 285.45l1.75 1.75l-1.75 1.75l-1.75 -1.75zM426.48 309.31l1.75 1.75l-1.75 1.75l-1.75 -1.75zM505.39 260.6l1.75 1.75l-1.75 1.75l-1.75 -1.75zM454.43 293.47l1.75 1.75l-1.75 1.75l-1.75 -1.75zM494.54 265.59l1.75 1.75l-1.75 1.75l-1.75 -1.75zM408.49 322.01l1.75 1.75l-1.75 1.75l-1.75 -1.75zM551.01 233.5l1.75 1.75l-1.75 1.75l-1.75 -1.75zM491.53 268.05l1.75 1.75l-1.75 1.75l-1.75 -1.75zM412.15 317.21l1.75 1.75l-1.75 1.75l-1.75 -1.75zM432.41 307.03l1.75 1.75l-1.75 1.75l-1.75 -1.75zM536.26 242.08l1.75 1.75l-1.75 1.75l-1.75 -1.75zM421.04 311.61l1.75 1.75l-1.75 1.75l-1.75 -1.75zM444.35 299.7l1.75 1.75l-1.75 1.75l-1.75 -1.75zM423.3 312.18l1.75 1.75l-1.75 1.75l-1.75 -1.75zM503.44 261.55l1.75 1.75l-1.75 1.75l-1.75 -1.75zM546.59 233.62l1.75 1.75l-1.75 1.75l-1.75 -1.75zM479.22 275.12l1.75 1.75l-1.75 1.75l-1.75 -1.75zM412.99 315.88l1.75 1.75l-1.75 1.75l-1.75 -1.75zM447.03 295.02l1.75 1.75l-1.75 1.75l-1.75 -1.75zM407.49 322.7l1.75 1.75l-1.75 1.75l-1.75 -1.75zM442.77 300.47l1.75 1.75l-1.75 1.75l-1.75 -1.75zM506.74 260.21l1.75 1.75l-1.75 1.75l-1.75 -1.75zM499.49 265.56l1.75 1.75l-1.75 1.75l-1.75 -1.75zM534.08 243.2l1.75 1.75l-1.75 1.75l-1.75 -1.75zM484.74 273.72l1.75 1.75l-1.75 1.75l-1.75 -1.75zM510.1 257.43l1.75 1.75l-1.75 1.75l-1.75 -1.75zM475.84 277.21l1.75 1.75l-1.75 1.75l-1.75 -1.75zM528.79 245.56l1.75 1.75l-1.75 1.75l-1.75 -1.75zM408.5 319.16l1.75 1.75l-1.75 1.75l-1.75 -1.75zM533.5 241.74l1.75 1.75l-1.75 1.75l-1.75 -1.75zM458.62 289.88l1.75 1.75l-1.75 1.75l-1.75 -1.75zM531.46 243.29l1.75 1.75l-1.75 1.75l-1.75 -1.75zM457.92 289.36l1.75 1.75l-1.75 1.75l-1.75 -1.75zM402.35 325.48l1.75 1.75l-1.75 1.75l-1.75 -1.75zM400.94 326.64l1.75 1.75l-1.75 1.75l-1.75 -1.75zM421.62 310.95l1.75 1.75l-1.75 1.75l-1.75 -1.75zM529.45 246.49l1.75 1.75l-1.75 1.75l-1.75 -1.75zM433.94 304.73l1.75 1.75l-1.75 1.75l-1.75 -1.75zM471.84 281.81l1.75 1.75l-1.75 1.75l-1.75 -1.75zM426.67 310.22l1.75 1.75l-1.75 1.75l-1.75 -1.75zM399.94 326l1.75 1.75l-1.75 1.75l-1.75 -1.75zM398.66 327.5l1.75 1.75l-1.75 1.75l-1.75 -1.75zM389.45 333.02l1.75 1.75l-1.75 1.75l-1.75 -1.75zM397.17 327.38l1.75 1.75l-1.75 1.75l-1.75 -1.75zM384.82 335.25l1.75 1.75l-1.75 1.75l-1.75 -1.75zM398.5 325.7l1.75 1.75l-1.75 1.75l-1.75 -1.75zM394 330.31l1.75 1.75l-1.75 1.75l-1.75 -1.75zM393.2 328.23l1.75 1.75l-1.75 1.75l-1.75 -1.75zM393.74 328.55l1.75 1.75l-1.75 1.75l-1.75 -1.75zM397.59 327.35l1.75 1.75l-1.75 1.75l-1.75 -1.75zM388.23 333.94l1.75 1.75l-1.75 1.75l-1.75 -1.75zM393.63 328.87l1.75 1.75l-1.75 1.75l-1.75 -1.75zM397.18 328.29l1.75 1.75l-1.75 1.75l-1.75 -1.75zM398.18 327.64l1.75 1.75l-1.75 1.75l-1.75 -1.75zM394.19 329.59l1.75 1.75l-1.75 1.75l-1.75 -1.75zM393.28 329.65l1.75 1.75l-1.75 1.75l-1.75 -1.75zM399.79 325.04l1.75 1.75l-1.75 1.75l-1.75 -1.75zM384.39 335.81l1.75 1.75l-1.75 1.75l-1.75 -1.75zM391.47 330.85l1.75 1.75l-1.75 1.75l-1.75 -1.75zM393.16 328.89l1.75 1.75l-1.75 1.75l-1.75 -1.75zM386.41 332.61l1.75 1.75l-1.75 1.75l-1.75 -1.75zM396.29 328.91l1.75 1.75l-1.75 1.75l-1.75 -1.75zM394.84 327.44l1.75 1.75l-1.75 1.75l-1.75 -1.75zM399.63 326.55l1.75 1.75l-1.75 1.75l-1.75 -1.75zM391.66 329.1l1.75 1.75l-1.75 1.75l-1.75 -1.75zM530.49 240.36l1.75 1.75l-1.75 1.75l-1.75 -1.75zM495.69 261.59l1.75 1.75l-1.75 1.75l-1.75 -1.75zM513.09 250.29l1.75 1.75l-1.75 1.75l-1.75 -1.75zM473.06 276.66l1.75 1.75l-1.75 1.75l-1.75 -1.75zM454.49 290.55l1.75 1.75l-1.75 1.75l-1.75 -1.75zM515.5 250.6l1.75 1.75l-1.75 1.75l-1.75 -1.75zM444.81 295.66l1.75 1.75l-1.75 1.75l-1.75 -1.75zM492.95 263.42l1.75 1.75l-1.75 1.75l-1.75 -1.75zM462.73 285.38l1.75 1.75l-1.75 1.75l-1.75 -1.75zM516.38 250.13l1.75 1.75l-1.75 1.75l-1.75 -1.75zM444.91 296.32l1.75 1.75l-1.75 1.75l-1.75 -1.75zM521.85 246.19l1.75 1.75l-1.75 1.75l-1.75 -1.75zM466.67 280.89l1.75 1.75l-1.75 1.75l-1.75 -1.75zM400.82 325.54l1.75 1.75l-1.75 1.75l-1.75 -1.75zM544.3 230.52l1.75 1.75l-1.75 1.75l-1.75 -1.75zM516.66 248.86l1.75 1.75l-1.75 1.75l-1.75 -1.75zM496.52 263.03l1.75 1.75l-1.75 1.75l-1.75 -1.75zM448.43 293.85l1.75 1.75l-1.75 1.75l-1.75 -1.75zM438.19 300.27l1.75 1.75l-1.75 1.75l-1.75 -1.75zM402.72 322.8l1.75 1.75l-1.75 1.75l-1.75 -1.75zM443.08 298.05l1.75 1.75l-1.75 1.75l-1.75 -1.75zM418.79 313.51l1.75 1.75l-1.75 1.75l-1.75 -1.75zM411.62 318.73l1.75 1.75l-1.75 1.75l-1.75 -1.75zM424.06 308.48l1.75 1.75l-1.75 1.75l-1.75 -1.75zM431.22 305.83l1.75 1.75l-1.75 1.75l-1.75 -1.75zM502.99 258.93l1.75 1.75l-1.75 1.75l-1.75 -1.75zM476.38 274.42l1.75 1.75l-1.75 1.75l-1.75 -1.75zM451.46 291.49l1.75 1.75l-1.75 1.75l-1.75 -1.75zM553.48 224.28l1.75 1.75l-1.75 1.75l-1.75 -1.75zM436.33 302.28l1.75 1.75l-1.75 1.75l-1.75 -1.75zM415.9 315.91l1.75 1.75l-1.75 1.75l-1.75 -1.75zM444.57 296.25l1.75 1.75l-1.75 1.75l-1.75 -1.75zM501.72 259.8l1.75 1.75l-1.75 1.75l-1.75 -1.75zM409.89 319.53l1.75 1.75l-1.75 1.75l-1.75 -1.75zM426.15 308.62l1.75 1.75l-1.75 1.75l-1.75 -1.75zM402.27 324.3l1.75 1.75l-1.75 1.75l-1.75 -1.75zM426.43 307.21l1.75 1.75l-1.75 1.75l-1.75 -1.75zM403.47 322.46l1.75 1.75l-1.75 1.75l-1.75 -1.75zM449.52 294.02l1.75 1.75l-1.75 1.75l-1.75 -1.75zM493.27 264.01l1.75 1.75l-1.75 1.75l-1.75 -1.75zM553.45 224.31l1.75 1.75l-1.75 1.75l-1.75 -1.75zM431.75 305.54l1.75 1.75l-1.75 1.75l-1.75 -1.75zM547.38 229.5l1.75 1.75l-1.75 1.75l-1.75 -1.75zM551.65 225.21l1.75 1.75l-1.75 1.75l-1.75 -1.75zM539.86 234.45l1.75 1.75l-1.75 1.75l-1.75 -1.75zM502.89 258.88l1.75 1.75l-1.75 1.75l-1.75 -1.75zM414.37 315.06l1.75 1.75l-1.75 1.75l-1.75 -1.75zM419.63 312.29l1.75 1.75l-1.75 1.75l-1.75 -1.75zM483.75 270.64l1.75 1.75l-1.75 1.75l-1.75 -1.75zM454.86 289.96l1.75 1.75l-1.75 1.75l-1.75 -1.75zM529.63 241.24l1.75 1.75l-1.75 1.75l-1.75 -1.75zM403.95 321.74l1.75 1.75l-1.75 1.75l-1.75 -1.75zM432.42 303.38l1.75 1.75l-1.75 1.75l-1.75 -1.75zM488.09 266.98l1.75 1.75l-1.75 1.75l-1.75 -1.75zM496.07 262.13l1.75 1.75l-1.75 1.75l-1.75 -1.75zM455.1 289.72l1.75 1.75l-1.75 1.75l-1.75 -1.75zM546.26 229.04l1.75 1.75l-1.75 1.75l-1.75 -1.75zM452.67 291.96l1.75 1.75l-1.75 1.75l-1.75 -1.75zM431.38 303.55l1.75 1.75l-1.75 1.75l-1.75 -1.75zM428.01 307.66l1.75 1.75l-1.75 1.75l-1.75 -1.75zM512.81 252.64l1.75 1.75l-1.75 1.75l-1.75 -1.75zM476.08 274.44l1.75 1.75l-1.75 1.75l-1.75 -1.75zM446.08 295.63l1.75 1.75l-1.75 1.75l-1.75 -1.75zM459.67 285.37l1.75 1.75l-1.75 1.75l-1.75 -1.75zM456.98 287.9l1.75 1.75l-1.75 1.75l-1.75 -1.75zM453.88 289.88l1.75 1.75l-1.75 1.75l-1.75 -1.75zM419.4 311.37l1.75 1.75l-1.75 1.75l-1.75 -1.75zM521.04 246.78l1.75 1.75l-1.75 1.75l-1.75 -1.75zM463.69 282.69l1.75 1.75l-1.75 1.75l-1.75 -1.75zM444.4 296.33l1.75 1.75l-1.75 1.75l-1.75 -1.75zM538.46 234.82l1.75 1.75l-1.75 1.75l-1.75 -1.75zM550.88 226.84l1.75 1.75l-1.75 1.75l-1.75 -1.75zM426.43 308.18l1.75 1.75l-1.75 1.75l-1.75 -1.75zM492.21 265.26l1.75 1.75l-1.75 1.75l-1.75 -1.75zM511.77 251.12l1.75 1.75l-1.75 1.75l-1.75 -1.75zM466.6 282.44l1.75 1.75l-1.75 1.75l-1.75 -1.75zM419.71 311.2l1.75 1.75l-1.75 1.75l-1.75 -1.75zM426.72 307.2l1.75 1.75l-1.75 1.75l-1.75 -1.75zM466.32 281.46l1.75 1.75l-1.75 1.75l-1.75 -1.75zM497.6 260.72l1.75 1.75l-1.75 1.75l-1.75 -1.75zM452.25 291.5l1.75 1.75l-1.75 1.75l-1.75 -1.75zM483.46 271.83l1.75 1.75l-1.75 1.75l-1.75 -1.75zM544.98 230.03l1.75 1.75l-1.75 1.75l-1.75 -1.75zM450.61 292.24l1.75 1.75l-1.75 1.75l-1.75 -1.75zM483.42 270.43l1.75 1.75l-1.75 1.75l-1.75 -1.75zM533.44 237.41l1.75 1.75l-1.75 1.75l-1.75 -1.75zM471.98 277.3l1.75 1.75l-1.75 1.75l-1.75 -1.75zM536.65 236.28l1.75 1.75l-1.75 1.75l-1.75 -1.75zM553.08 224.48l1.75 1.75l-1.75 1.75l-1.75 -1.75zM509.64 253.89l1.75 1.75l-1.75 1.75l-1.75 -1.75zM406.08 321.95l1.75 1.75l-1.75 1.75l-1.75 -1.75zM535.25 235.96l1.75 1.75l-1.75 1.75l-1.75 -1.75zM545.85 230.74l1.75 1.75l-1.75 1.75l-1.75 -1.75zM492.92 264.67l1.75 1.75l-1.75 1.75l-1.75 -1.75zM439.31 298.45l1.75 1.75l-1.75 1.75l-1.75 -1.75zM472.65 278.66l1.75 1.75l-1.75 1.75l-1.75 -1.75zM430.83 304.98l1.75 1.75l-1.75 1.75l-1.75 -1.75zM442.35 297.99l1.75 1.75l-1.75 1.75l-1.75 -1.75zM548.66 229.15l1.75 1.75l-1.75 1.75l-1.75 -1.75zM443.19 296.78l1.75 1.75l-1.75 1.75l-1.75 -1.75zM398.42 326.24l1.75 1.75l-1.75 1.75l-1.75 -1.75zM532.01 239.9l1.75 1.75l-1.75 1.75l-1.75 -1.75zM409.31 318.91l1.75 1.75l-1.75 1.75l-1.75 -1.75zM410.57 318.07l1.75 1.75l-1.75 1.75l-1.75 -1.75zM541.32 232.48l1.75 1.75l-1.75 1.75l-1.75 -1.75zM530.78 240.97l1.75 1.75l-1.75 1.75l-1.75 -1.75zM526.49 241.96l1.75 1.75l-1.75 1.75l-1.75 -1.75zM542.16 233.47l1.75 1.75l-1.75 1.75l-1.75 -1.75zM554.78 223.05l1.75 1.75l-1.75 1.75l-1.75 -1.75zM398.57 325.58l1.75 1.75l-1.75 1.75l-1.75 -1.75zM479.27 273.27l1.75 1.75l-1.75 1.75l-1.75 -1.75zM412.52 317.32l1.75 1.75l-1.75 1.75l-1.75 -1.75zM502.84 258.41l1.75 1.75l-1.75 1.75l-1.75 -1.75zM478.17 274.3l1.75 1.75l-1.75 1.75l-1.75 -1.75zM506.3 254.79l1.75 1.75l-1.75 1.75l-1.75 -1.75zM466.49 280.92l1.75 1.75l-1.75 1.75l-1.75 -1.75zM414.33 316.43l1.75 1.75l-1.75 1.75l-1.75 -1.75zM448.92 292.86l1.75 1.75l-1.75 1.75l-1.75 -1.75zM441.5 298.29l1.75 1.75l-1.75 1.75l-1.75 -1.75zM416.56 314.69l1.75 1.75l-1.75 1.75l-1.75 -1.75z" fill="none" stroke="#b2b2b2" stroke-width="0.55"/>
<line x1="325.6" y1="375.4" x2="559.5" y2="222.9" stroke="#2c2c2c" stroke-width="1" stroke-dasharray="3.5 3.5"/>
<line x1="374.4" y1="343.2" x2="552.9" y2="230.9" stroke="#ff1414" stroke-width="1.25"/>
<line x1="325.6" y1="375.4" x2="559.5" y2="375.4" stroke="#111" stroke-width="1.2" stroke-linecap="square"/>
<line x1="325.6" y1="222.9" x2="559.5" y2="222.9" stroke="#111" stroke-width="1.2" stroke-linecap="square"/>
<line x1="325.6" y1="222.9" x2="325.6" y2="375.4" stroke="#111" stroke-width="1.2" stroke-linecap="square"/>
<line x1="559.5" y1="222.9" x2="559.5" y2="375.4" stroke="#111" stroke-width="1.2" stroke-linecap="square"/>
<path d="M325.6 375.4v1.8M325.6 222.9v-1.8M325.6 375.4h-1.8M559.5 375.4h1.8M346.86 375.4v3.2M346.86 222.9v-3.2M325.6 361.54h-3.2M559.5 361.54h3.2M368.13 375.4v1.8M368.13 222.9v-1.8M325.6 347.67h-1.8M559.5 347.67h1.8M389.39 375.4v3.2M389.39 222.9v-3.2M325.6 333.81h-3.2M559.5 333.81h3.2M410.65 375.4v1.8M410.65 222.9v-1.8M325.6 319.95h-1.8M559.5 319.95h1.8M431.92 375.4v3.2M431.92 222.9v-3.2M325.6 306.08h-3.2M559.5 306.08h3.2M453.18 375.4v1.8M453.18 222.9v-1.8M325.6 292.22h-1.8M559.5 292.22h1.8M474.45 375.4v3.2M474.45 222.9v-3.2M325.6 278.35h-3.2M559.5 278.35h3.2M495.71 375.4v1.8M495.71 222.9v-1.8M325.6 264.49h-1.8M559.5 264.49h1.8M516.97 375.4v3.2M516.97 222.9v-3.2M325.6 250.63h-3.2M559.5 250.63h3.2M538.24 375.4v1.8M538.24 222.9v-1.8M325.6 236.76h-1.8M559.5 236.76h1.8M559.5 375.4v3.2M559.5 222.9v-3.2M325.6 222.9h-3.2M559.5 222.9h3.2" stroke="#333" stroke-width="0.95" fill="none"/>
<text x="346.86" y="390.8" text-anchor="middle" class="tl">0.1</text>
<text x="320.3" y="365.44" text-anchor="end" class="tl">0.1</text>
<text x="389.39" y="390.8" text-anchor="middle" class="tl">0.2</text>
<text x="320.3" y="337.71" text-anchor="end" class="tl">0.2</text>
<text x="431.92" y="390.8" text-anchor="middle" class="tl">0.3</text>
<text x="320.3" y="309.98" text-anchor="end" class="tl">0.3</text>
<text x="474.45" y="390.8" text-anchor="middle" class="tl">0.4</text>
<text x="320.3" y="282.25" text-anchor="end" class="tl">0.4</text>
<text x="516.97" y="390.8" text-anchor="middle" class="tl">0.5</text>
<text x="320.3" y="254.53" text-anchor="end" class="tl">0.5</text>
<text x="559.5" y="390.8" text-anchor="middle" class="tl">0.6</text>
<text x="320.3" y="226.8" text-anchor="end" class="tl">0.6</text>
<text transform="translate(328.55 408.4) scale(1.0537 1)" class="at">DgN<tspan class="sub" dy="4">p</tspan><tspan dy="-4"> (Nosratieh et al. 2015) (mGy/mGy)</tspan></text>
<text transform="translate(297 381.3) rotate(-90)" x="0" y="0" class="at" textLength="165.5" lengthAdjust="spacingAndGlyphs">DgN<tspan class="sub" dy="4">p</tspan><tspan dy="-4"> (This work) (mGy/mGy)</tspan></text>
<text transform="translate(287.8 408.9) scale(0.93 1)" class="pl">d<tspan dx="2.2">)</tspan></text>
<rect x="331.7" y="233.6" width="157.5" height="16.2" fill="#000"/>
<rect x="329.4" y="231.3" width="157.5" height="16.2" fill="#fff" stroke="#c8c8c8" stroke-width="0.8"/>
<text transform="translate(334.53 243.6) scale(1.0676 1)" class="hv">HVL range 0.6 - 0.7 mmAl</text>
<rect x="462.25" y="312.25" width="88.5" height="47.75" fill="#fff" stroke="#cfcfcf" stroke-width="0.8"/>
<text transform="translate(466.35 322.9) scale(1.0115 1)" class="ft">Fit curve: Y = a*X + b</text>
<text transform="translate(467.05 333.5) scale(0.9948 1)" class="ft fb">a&#160; = 0.9963 &#177; 0.0033</text>
<text transform="translate(466.35 344) scale(1.0145 1)" class="ft fb">b&#160; = 0.0059 &#177; 0.0012</text>
<text transform="translate(466.35 355.25) scale(1.0200 1)" class="ft">R<tspan class="sup" dy="-3.9">2</tspan><tspan dy="3.9">= 0.9963</tspan></text>
</svg>
</body></html>
